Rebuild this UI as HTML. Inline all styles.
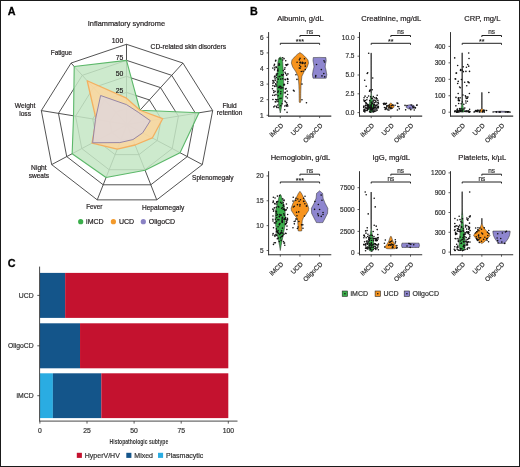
<!DOCTYPE html>
<html><head><meta charset="utf-8"><style>
html,body{margin:0;padding:0;background:#fff;}
body{width:520px;height:467px;overflow:hidden;}
svg{display:block;font-family:"Liberation Sans", sans-serif;will-change:transform;}
</style></head><body>
<svg width="520" height="467" viewBox="0 0 520 467">
<rect x="0" y="0" width="520" height="467" fill="#fff"/>
<polygon points="126.50,108.46 138.18,112.21 144.14,121.71 142.07,132.52 132.95,139.57 121.05,139.57 111.93,132.52 109.86,121.71 115.82,112.21" fill="none" stroke="#404040" stroke-width="0.9"/>
<polygon points="126.50,92.42 149.37,99.93 161.27,118.93 157.14,140.54 138.90,154.65 115.10,154.65 96.86,140.54 92.73,118.93 104.63,99.93" fill="none" stroke="#404040" stroke-width="0.9"/>
<polygon points="126.50,76.38 160.55,87.64 178.41,116.14 172.21,148.56 144.85,169.72 109.15,169.72 81.79,148.56 75.59,116.14 93.45,87.64" fill="none" stroke="#404040" stroke-width="0.9"/>
<polygon points="126.50,60.34 171.74,75.35 195.54,113.36 187.28,156.58 150.80,184.79 103.20,184.79 66.72,156.58 58.46,113.36 82.26,75.35" fill="none" stroke="#404040" stroke-width="0.9"/>
<polygon points="126.50,44.30 182.92,63.06 212.68,110.57 202.34,164.60 156.76,199.86 97.24,199.86 51.66,164.60 41.32,110.57 71.08,63.06" fill="none" stroke="#404040" stroke-width="0.9"/>
<line x1="126.5" y1="124.5" x2="126.50" y2="44.30" stroke="#404040" stroke-width="0.9"/>
<line x1="127.0" y1="124.5" x2="182.92" y2="63.06" stroke="#404040" stroke-width="0.9"/>
<line x1="127.0" y1="124.5" x2="212.68" y2="110.57" stroke="#404040" stroke-width="0.9"/>
<line x1="127.0" y1="124.5" x2="202.34" y2="164.60" stroke="#404040" stroke-width="0.9"/>
<line x1="127.0" y1="124.5" x2="156.76" y2="199.86" stroke="#404040" stroke-width="0.9"/>
<line x1="127.0" y1="124.5" x2="97.24" y2="199.86" stroke="#404040" stroke-width="0.9"/>
<line x1="127.0" y1="124.5" x2="51.66" y2="164.60" stroke="#404040" stroke-width="0.9"/>
<line x1="127.0" y1="124.5" x2="41.32" y2="110.57" stroke="#404040" stroke-width="0.9"/>
<line x1="127.0" y1="124.5" x2="71.08" y2="63.06" stroke="#404040" stroke-width="0.9"/>
<polygon points="126.50,60.34 139.97,110.25 198.97,112.80 180.04,152.73 145.09,170.32 106.05,177.56 72.15,153.69 73.54,115.81 74.21,66.50" fill="#c4e6c4" fill-opacity="0.85" stroke="#5cb86a" stroke-width="1.1" stroke-linejoin="round"/>
<polygon points="126.50,98.19 139.97,110.25 162.64,118.71 152.32,137.97 135.09,145.00 117.24,149.22 92.04,143.11 96.16,119.49 87.18,80.76" fill="#fbd69e" fill-opacity="0.85" stroke="#f4b060" stroke-width="1.3" stroke-linejoin="round"/>
<polygon points="126.50,104.61 138.18,112.21 150.30,120.71 142.67,132.84 132.95,139.57 119.86,142.59 92.64,142.79 95.47,119.38 100.60,95.50" fill="#e0d6d8" fill-opacity="0.85" stroke="#9686a6" stroke-width="1.0" stroke-linejoin="round"/>
<text x="126.40" y="26.40" font-size="7.4" text-anchor="middle" font-weight="normal" fill="#231f20" stroke="#231f20" stroke-width="0.2" >Inflammatory syndrome</text>
<text x="123.20" y="43.00" font-size="6.8" text-anchor="end" font-weight="normal" fill="#231f20" stroke="#231f20" stroke-width="0.2" >100</text>
<text x="123.20" y="60.10" font-size="6.8" text-anchor="end" font-weight="normal" fill="#231f20" stroke="#231f20" stroke-width="0.2" >75</text>
<text x="123.20" y="76.30" font-size="6.8" text-anchor="end" font-weight="normal" fill="#231f20" stroke="#231f20" stroke-width="0.2" >50</text>
<text x="123.20" y="92.80" font-size="6.8" text-anchor="end" font-weight="normal" fill="#231f20" stroke="#231f20" stroke-width="0.2" >25</text>
<text x="150.60" y="48.50" font-size="6.7" text-anchor="start" font-weight="normal" fill="#231f20" stroke="#231f20" stroke-width="0.2" >CD-related skin disorders</text>
<text x="50.80" y="55.20" font-size="6.35" text-anchor="start" font-weight="normal" fill="#231f20" stroke="#231f20" stroke-width="0.2" >Fatigue</text>
<text x="25.10" y="108.30" font-size="6.7" text-anchor="middle" font-weight="normal" fill="#231f20" stroke="#231f20" stroke-width="0.2" >Weight</text>
<text x="25.10" y="116.00" font-size="6.7" text-anchor="middle" font-weight="normal" fill="#231f20" stroke="#231f20" stroke-width="0.2" >loss</text>
<text x="229.60" y="107.60" font-size="6.55" text-anchor="middle" font-weight="normal" fill="#231f20" stroke="#231f20" stroke-width="0.2" >Fluid</text>
<text x="229.60" y="115.30" font-size="6.55" text-anchor="middle" font-weight="normal" fill="#231f20" stroke="#231f20" stroke-width="0.2" >retention</text>
<text x="38.90" y="169.90" font-size="6.7" text-anchor="middle" font-weight="normal" fill="#231f20" stroke="#231f20" stroke-width="0.2" >Night</text>
<text x="38.90" y="178.00" font-size="6.55" text-anchor="middle" font-weight="normal" fill="#231f20" stroke="#231f20" stroke-width="0.2" >sweats</text>
<text x="192.10" y="180.00" font-size="6.55" text-anchor="start" font-weight="normal" fill="#231f20" stroke="#231f20" stroke-width="0.2" >Splenomegaly</text>
<text x="86.20" y="208.80" font-size="6.3" text-anchor="start" font-weight="normal" fill="#231f20" stroke="#231f20" stroke-width="0.2" >Fever</text>
<text x="142.00" y="210.00" font-size="6.55" text-anchor="start" font-weight="normal" fill="#231f20" stroke="#231f20" stroke-width="0.2" >Hepatomegaly</text>
<circle cx="80.7" cy="221.7" r="2.6" fill="#3aae4a"/>
<text x="86.10" y="224.20" font-size="7.0" text-anchor="start" font-weight="normal" fill="#231f20" stroke="#231f20" stroke-width="0.2" >iMCD</text>
<circle cx="113.4" cy="221.7" r="2.6" fill="#f39a2b"/>
<text x="119.00" y="224.20" font-size="7.0" text-anchor="start" font-weight="normal" fill="#231f20" stroke="#231f20" stroke-width="0.2" >UCD</text>
<circle cx="143.3" cy="221.7" r="2.6" fill="#8a82c4"/>
<text x="148.70" y="224.20" font-size="7.0" text-anchor="start" font-weight="normal" fill="#231f20" stroke="#231f20" stroke-width="0.2" >OligoCD</text>
<rect x="39.90" y="272.9" width="25.25" height="45.00" fill="#14558a"/>
<rect x="65.15" y="272.9" width="163.15" height="45.00" fill="#c4122f"/>
<line x1="37.3" y1="295.40" x2="39.9" y2="295.40" stroke="#333" stroke-width="0.8"/>
<text x="33.60" y="297.80" font-size="6.8" text-anchor="end" font-weight="normal" fill="#333" stroke="#333" stroke-width="0.2" >UCD</text>
<rect x="39.90" y="323.3" width="40.13" height="45.00" fill="#14558a"/>
<rect x="80.03" y="323.3" width="148.27" height="45.00" fill="#c4122f"/>
<line x1="37.3" y1="345.80" x2="39.9" y2="345.80" stroke="#333" stroke-width="0.8"/>
<text x="33.60" y="348.20" font-size="6.8" text-anchor="end" font-weight="normal" fill="#333" stroke="#333" stroke-width="0.2" >OligoCD</text>
<rect x="39.90" y="373.3" width="13.00" height="44.80" fill="#2aace2"/>
<rect x="52.90" y="373.3" width="48.42" height="44.80" fill="#14558a"/>
<rect x="101.32" y="373.3" width="126.98" height="44.80" fill="#c4122f"/>
<line x1="37.3" y1="395.70" x2="39.9" y2="395.70" stroke="#333" stroke-width="0.8"/>
<text x="33.60" y="398.10" font-size="6.8" text-anchor="end" font-weight="normal" fill="#333" stroke="#333" stroke-width="0.2" >iMCD</text>
<line x1="39.6" y1="266.6" x2="39.6" y2="421.5" stroke="#333" stroke-width="0.9"/>
<line x1="39.6" y1="421.1" x2="237.5" y2="421.1" stroke="#333" stroke-width="0.9"/>
<line x1="39.90" y1="421.1" x2="39.90" y2="423.6" stroke="#333" stroke-width="0.8"/>
<text x="39.90" y="432.80" font-size="6.8" text-anchor="middle" font-weight="normal" fill="#333" stroke="#333" stroke-width="0.2" >0</text>
<line x1="87.00" y1="421.1" x2="87.00" y2="423.6" stroke="#333" stroke-width="0.8"/>
<text x="87.00" y="432.80" font-size="6.8" text-anchor="middle" font-weight="normal" fill="#333" stroke="#333" stroke-width="0.2" >25</text>
<line x1="134.10" y1="421.1" x2="134.10" y2="423.6" stroke="#333" stroke-width="0.8"/>
<text x="134.10" y="432.80" font-size="6.8" text-anchor="middle" font-weight="normal" fill="#333" stroke="#333" stroke-width="0.2" >50</text>
<line x1="181.20" y1="421.1" x2="181.20" y2="423.6" stroke="#333" stroke-width="0.8"/>
<text x="181.20" y="432.80" font-size="6.8" text-anchor="middle" font-weight="normal" fill="#333" stroke="#333" stroke-width="0.2" >75</text>
<line x1="228.30" y1="421.1" x2="228.30" y2="423.6" stroke="#333" stroke-width="0.8"/>
<text x="228.30" y="432.80" font-size="6.8" text-anchor="middle" font-weight="normal" fill="#333" stroke="#333" stroke-width="0.2" >100</text>
<text transform="translate(138.9 443.7) scale(0.72 1)" font-size="7" font-weight="bold" text-anchor="middle" fill="#333">Histopathologic subtype</text>
<rect x="76.8" y="452.8" width="5.1" height="5.1" fill="#c4122f"/>
<text x="84.80" y="458.00" font-size="7.0" text-anchor="start" font-weight="normal" fill="#333" stroke="#333" stroke-width="0.2" >HyperV/HV</text>
<rect x="126.3" y="452.8" width="5.1" height="5.1" fill="#14558a"/>
<text x="134.30" y="458.00" font-size="7.0" text-anchor="start" font-weight="normal" fill="#333" stroke="#333" stroke-width="0.2" >Mixed</text>
<rect x="158.0" y="452.8" width="5.1" height="5.1" fill="#2aace2"/>
<text x="166.00" y="458.00" font-size="7.0" text-anchor="start" font-weight="normal" fill="#333" stroke="#333" stroke-width="0.2" >Plasmacytic</text>
<text x="300.40" y="21.40" font-size="7.6" text-anchor="middle" font-weight="normal" fill="#231f20" stroke="#231f20" stroke-width="0.2" >Albumin, g/dL</text>
<line x1="268.6" y1="32.1" x2="268.6" y2="116.6" stroke="#333" stroke-width="1.0"/>
<line x1="268.20000000000005" y1="116.1" x2="331.3" y2="116.1" stroke="#333" stroke-width="1.1"/>
<line x1="266.6" y1="115.30" x2="268.6" y2="115.30" stroke="#333" stroke-width="0.8"/>
<text x="263.60" y="117.50" font-size="6.5" text-anchor="end" font-weight="normal" fill="#333" stroke="#333" stroke-width="0.2" >1</text>
<line x1="266.6" y1="99.70" x2="268.6" y2="99.70" stroke="#333" stroke-width="0.8"/>
<text x="263.60" y="101.90" font-size="6.5" text-anchor="end" font-weight="normal" fill="#333" stroke="#333" stroke-width="0.2" >2</text>
<line x1="266.6" y1="84.10" x2="268.6" y2="84.10" stroke="#333" stroke-width="0.8"/>
<text x="263.60" y="86.30" font-size="6.5" text-anchor="end" font-weight="normal" fill="#333" stroke="#333" stroke-width="0.2" >3</text>
<line x1="266.6" y1="68.50" x2="268.6" y2="68.50" stroke="#333" stroke-width="0.8"/>
<text x="263.60" y="70.70" font-size="6.5" text-anchor="end" font-weight="normal" fill="#333" stroke="#333" stroke-width="0.2" >4</text>
<line x1="266.6" y1="52.90" x2="268.6" y2="52.90" stroke="#333" stroke-width="0.8"/>
<text x="263.60" y="55.10" font-size="6.5" text-anchor="end" font-weight="normal" fill="#333" stroke="#333" stroke-width="0.2" >5</text>
<line x1="266.6" y1="37.30" x2="268.6" y2="37.30" stroke="#333" stroke-width="0.8"/>
<text x="263.60" y="39.50" font-size="6.5" text-anchor="end" font-weight="normal" fill="#333" stroke="#333" stroke-width="0.2" >6</text>
<line x1="280.30" y1="116.1" x2="280.30" y2="118.1" stroke="#333" stroke-width="0.8"/>
<text transform="translate(283.70 126.00) rotate(-45)" font-size="6.5" text-anchor="end" fill="#333" stroke="#333" stroke-width="0.2">iMCD</text>
<line x1="299.95" y1="116.1" x2="299.95" y2="118.1" stroke="#333" stroke-width="0.8"/>
<text transform="translate(303.35 126.00) rotate(-45)" font-size="6.5" text-anchor="end" fill="#333" stroke="#333" stroke-width="0.2">UCD</text>
<line x1="319.60" y1="116.1" x2="319.60" y2="118.1" stroke="#333" stroke-width="0.8"/>
<text transform="translate(323.00 126.00) rotate(-45)" font-size="6.5" text-anchor="end" fill="#333" stroke="#333" stroke-width="0.2">OligoCD</text>
<path d="M280.30,112.96 L280.48,112.05 L280.67,111.14 L280.85,110.23 L281.03,109.32 L281.22,108.41 L281.40,107.50 L281.63,106.20 L281.87,104.90 L282.10,103.60 L282.33,102.30 L282.57,101.00 L282.80,99.70 L282.92,98.40 L283.03,97.10 L283.15,95.80 L283.27,94.50 L283.38,93.20 L283.50,91.90 L283.53,90.60 L283.57,89.30 L283.60,88.00 L283.63,86.70 L283.67,85.40 L283.70,84.10 L283.68,82.80 L283.67,81.50 L283.65,80.20 L283.63,78.90 L283.62,77.60 L283.60,76.30 L283.52,75.00 L283.43,73.70 L283.35,72.40 L283.27,71.10 L283.18,69.80 L283.10,68.50 L283.03,67.46 L282.97,66.42 L282.90,65.38 L282.83,64.34 L282.77,63.30 L282.70,62.26 L282.60,61.69 L282.50,61.12 L282.40,60.54 L282.30,59.97 L282.20,59.40 L282.10,58.83 L281.97,58.62 L281.83,58.41 L281.70,58.20 L281.57,58.00 L281.43,57.79 L281.30,57.58 L281.13,57.50 L280.97,57.42 L280.80,57.35 L280.63,57.27 L280.47,57.19 L280.30,57.11 L280.30,57.11 L280.13,57.19 L279.97,57.27 L279.80,57.35 L279.63,57.42 L279.47,57.50 L279.30,57.58 L279.17,57.79 L279.03,58.00 L278.90,58.20 L278.77,58.41 L278.63,58.62 L278.50,58.83 L278.40,59.40 L278.30,59.97 L278.20,60.54 L278.10,61.12 L278.00,61.69 L277.90,62.26 L277.83,63.30 L277.77,64.34 L277.70,65.38 L277.63,66.42 L277.57,67.46 L277.50,68.50 L277.42,69.80 L277.33,71.10 L277.25,72.40 L277.17,73.70 L277.08,75.00 L277.00,76.30 L276.98,77.60 L276.97,78.90 L276.95,80.20 L276.93,81.50 L276.92,82.80 L276.90,84.10 L276.93,85.40 L276.97,86.70 L277.00,88.00 L277.03,89.30 L277.07,90.60 L277.10,91.90 L277.22,93.20 L277.33,94.50 L277.45,95.80 L277.57,97.10 L277.68,98.40 L277.80,99.70 L278.03,101.00 L278.27,102.30 L278.50,103.60 L278.73,104.90 L278.97,106.20 L279.20,107.50 L279.38,108.41 L279.57,109.32 L279.75,110.23 L279.93,111.14 L280.12,112.05 L280.30,112.96 Z" fill="#3aae4a" stroke="#2a2a2a" stroke-width="0.55"/>
<path d="M299.95,102.82 L300.07,102.69 L300.18,102.56 L300.30,102.43 L300.42,102.30 L300.53,102.17 L300.65,102.04 L300.67,100.35 L300.68,98.66 L300.70,96.97 L300.72,95.28 L300.73,93.59 L300.75,91.90 L300.80,90.60 L300.85,89.30 L300.90,88.00 L300.95,86.70 L301.00,85.40 L301.05,84.10 L301.18,82.80 L301.32,81.50 L301.45,80.20 L301.58,78.90 L301.72,77.60 L301.85,76.30 L302.23,75.52 L302.62,74.74 L303.00,73.96 L303.38,73.18 L303.77,72.40 L304.15,71.62 L304.67,70.84 L305.18,70.06 L305.70,69.28 L306.22,68.50 L306.73,67.72 L307.25,66.94 L307.47,66.29 L307.68,65.64 L307.90,64.99 L308.12,64.34 L308.33,63.69 L308.55,63.04 L308.45,62.52 L308.35,62.00 L308.25,61.48 L308.15,60.96 L308.05,60.44 L307.95,59.92 L307.48,59.40 L307.02,58.88 L306.55,58.36 L306.08,57.84 L305.62,57.32 L305.15,56.80 L304.68,56.36 L304.22,55.92 L303.75,55.47 L303.28,55.03 L302.82,54.59 L302.35,54.15 L301.95,53.89 L301.55,53.63 L301.15,53.37 L300.75,53.11 L300.35,52.85 L299.95,52.59 L299.95,52.59 L299.55,52.85 L299.15,53.11 L298.75,53.37 L298.35,53.63 L297.95,53.89 L297.55,54.15 L297.08,54.59 L296.62,55.03 L296.15,55.47 L295.68,55.92 L295.22,56.36 L294.75,56.80 L294.28,57.32 L293.82,57.84 L293.35,58.36 L292.88,58.88 L292.42,59.40 L291.95,59.92 L291.85,60.44 L291.75,60.96 L291.65,61.48 L291.55,62.00 L291.45,62.52 L291.35,63.04 L291.57,63.69 L291.78,64.34 L292.00,64.99 L292.22,65.64 L292.43,66.29 L292.65,66.94 L293.17,67.72 L293.68,68.50 L294.20,69.28 L294.72,70.06 L295.23,70.84 L295.75,71.62 L296.13,72.40 L296.52,73.18 L296.90,73.96 L297.28,74.74 L297.67,75.52 L298.05,76.30 L298.18,77.60 L298.32,78.90 L298.45,80.20 L298.58,81.50 L298.72,82.80 L298.85,84.10 L298.90,85.40 L298.95,86.70 L299.00,88.00 L299.05,89.30 L299.10,90.60 L299.15,91.90 L299.17,93.59 L299.18,95.28 L299.20,96.97 L299.22,98.66 L299.23,100.35 L299.25,102.04 L299.37,102.17 L299.48,102.30 L299.60,102.43 L299.72,102.56 L299.83,102.69 L299.95,102.82 Z" fill="#f7941d" stroke="#2a2a2a" stroke-width="0.55"/>
<path d="M319.60,78.33 L320.70,78.30 L321.80,78.28 L322.90,78.25 L324.00,78.22 L325.10,78.20 L326.20,78.17 L326.30,77.60 L326.40,77.03 L326.50,76.46 L326.60,75.88 L326.70,75.31 L326.80,74.74 L326.67,73.96 L326.53,73.18 L326.40,72.40 L326.27,71.62 L326.13,70.84 L326.00,70.06 L325.87,69.54 L325.73,69.02 L325.60,68.50 L325.47,67.98 L325.33,67.46 L325.20,66.94 L325.27,66.42 L325.33,65.90 L325.40,65.38 L325.47,64.86 L325.53,64.34 L325.60,63.82 L325.70,63.30 L325.80,62.78 L325.90,62.26 L326.00,61.74 L326.10,61.22 L326.20,60.70 L326.15,60.18 L326.10,59.66 L326.05,59.14 L326.00,58.62 L325.95,58.10 L325.90,57.58 L324.85,57.55 L323.80,57.53 L322.75,57.50 L321.70,57.48 L320.65,57.45 L319.60,57.42 L319.60,57.42 L318.55,57.45 L317.50,57.48 L316.45,57.50 L315.40,57.53 L314.35,57.55 L313.30,57.58 L313.25,58.10 L313.20,58.62 L313.15,59.14 L313.10,59.66 L313.05,60.18 L313.00,60.70 L313.10,61.22 L313.20,61.74 L313.30,62.26 L313.40,62.78 L313.50,63.30 L313.60,63.82 L313.67,64.34 L313.73,64.86 L313.80,65.38 L313.87,65.90 L313.93,66.42 L314.00,66.94 L313.87,67.46 L313.73,67.98 L313.60,68.50 L313.47,69.02 L313.33,69.54 L313.20,70.06 L313.07,70.84 L312.93,71.62 L312.80,72.40 L312.67,73.18 L312.53,73.96 L312.40,74.74 L312.50,75.31 L312.60,75.88 L312.70,76.46 L312.80,77.03 L312.90,77.60 L313.00,78.17 L314.10,78.20 L315.20,78.22 L316.30,78.25 L317.40,78.28 L318.50,78.30 L319.60,78.33 Z" fill="#8e86cf" stroke="#2a2a2a" stroke-width="0.55"/>
<circle cx="273.55" cy="90.68" r="0.8" fill="#111"/>
<circle cx="275.76" cy="99.51" r="0.8" fill="#111"/>
<circle cx="275.03" cy="76.01" r="0.8" fill="#111"/>
<circle cx="277.80" cy="105.05" r="0.8" fill="#111"/>
<circle cx="273.32" cy="81.10" r="0.8" fill="#111"/>
<circle cx="272.50" cy="88.77" r="0.8" fill="#111"/>
<circle cx="274.86" cy="106.08" r="0.8" fill="#111"/>
<circle cx="274.08" cy="82.35" r="0.8" fill="#111"/>
<circle cx="278.17" cy="107.60" r="0.8" fill="#111"/>
<circle cx="272.90" cy="85.66" r="0.8" fill="#111"/>
<circle cx="286.14" cy="105.23" r="0.8" fill="#111"/>
<circle cx="282.08" cy="103.74" r="0.8" fill="#111"/>
<circle cx="274.82" cy="86.08" r="0.8" fill="#111"/>
<circle cx="276.44" cy="67.50" r="0.8" fill="#111"/>
<circle cx="277.92" cy="101.38" r="0.8" fill="#111"/>
<circle cx="278.18" cy="95.75" r="0.8" fill="#111"/>
<circle cx="274.42" cy="77.07" r="0.8" fill="#111"/>
<circle cx="285.74" cy="60.70" r="0.8" fill="#111"/>
<circle cx="287.99" cy="79.29" r="0.8" fill="#111"/>
<circle cx="279.77" cy="87.35" r="0.8" fill="#111"/>
<circle cx="280.05" cy="58.88" r="0.8" fill="#111"/>
<circle cx="273.84" cy="106.90" r="0.8" fill="#111"/>
<circle cx="274.09" cy="65.78" r="0.8" fill="#111"/>
<circle cx="277.85" cy="92.30" r="0.8" fill="#111"/>
<circle cx="276.63" cy="99.91" r="0.8" fill="#111"/>
<circle cx="285.43" cy="101.81" r="0.8" fill="#111"/>
<circle cx="275.02" cy="91.39" r="0.8" fill="#111"/>
<circle cx="272.86" cy="68.09" r="0.8" fill="#111"/>
<circle cx="287.34" cy="97.96" r="0.8" fill="#111"/>
<circle cx="280.74" cy="79.09" r="0.8" fill="#111"/>
<circle cx="274.79" cy="76.57" r="0.8" fill="#111"/>
<circle cx="280.97" cy="88.46" r="0.8" fill="#111"/>
<circle cx="272.92" cy="80.58" r="0.8" fill="#111"/>
<circle cx="280.74" cy="105.74" r="0.8" fill="#111"/>
<circle cx="287.76" cy="105.97" r="0.8" fill="#111"/>
<circle cx="285.97" cy="96.65" r="0.8" fill="#111"/>
<circle cx="283.36" cy="74.61" r="0.8" fill="#111"/>
<circle cx="276.57" cy="85.93" r="0.8" fill="#111"/>
<circle cx="278.22" cy="91.13" r="0.8" fill="#111"/>
<circle cx="275.11" cy="78.91" r="0.8" fill="#111"/>
<circle cx="284.54" cy="84.76" r="0.8" fill="#111"/>
<circle cx="280.81" cy="91.78" r="0.8" fill="#111"/>
<circle cx="284.65" cy="69.18" r="0.8" fill="#111"/>
<circle cx="277.64" cy="73.72" r="0.8" fill="#111"/>
<circle cx="275.98" cy="94.66" r="0.8" fill="#111"/>
<circle cx="285.16" cy="79.40" r="0.8" fill="#111"/>
<circle cx="287.86" cy="81.57" r="0.8" fill="#111"/>
<circle cx="285.80" cy="64.87" r="0.8" fill="#111"/>
<circle cx="285.07" cy="72.27" r="0.8" fill="#111"/>
<circle cx="285.27" cy="92.38" r="0.8" fill="#111"/>
<circle cx="284.04" cy="58.63" r="0.8" fill="#111"/>
<circle cx="276.04" cy="101.79" r="0.8" fill="#111"/>
<circle cx="280.58" cy="86.37" r="0.8" fill="#111"/>
<circle cx="278.05" cy="70.95" r="0.8" fill="#111"/>
<circle cx="272.95" cy="99.45" r="0.8" fill="#111"/>
<circle cx="272.94" cy="83.16" r="0.8" fill="#111"/>
<circle cx="276.86" cy="107.43" r="0.8" fill="#111"/>
<circle cx="276.54" cy="75.19" r="0.8" fill="#111"/>
<circle cx="283.30" cy="70.60" r="0.8" fill="#111"/>
<circle cx="287.42" cy="79.46" r="0.8" fill="#111"/>
<circle cx="279.48" cy="64.85" r="0.8" fill="#111"/>
<circle cx="287.12" cy="91.14" r="0.8" fill="#111"/>
<circle cx="287.91" cy="73.90" r="0.8" fill="#111"/>
<circle cx="287.40" cy="78.53" r="0.8" fill="#111"/>
<circle cx="278.19" cy="79.16" r="0.8" fill="#111"/>
<circle cx="275.94" cy="84.63" r="0.8" fill="#111"/>
<circle cx="276.04" cy="66.79" r="0.8" fill="#111"/>
<circle cx="275.57" cy="60.89" r="0.8" fill="#111"/>
<circle cx="275.69" cy="83.82" r="0.8" fill="#111"/>
<circle cx="282.24" cy="75.38" r="0.8" fill="#111"/>
<circle cx="286.54" cy="105.89" r="0.8" fill="#111"/>
<circle cx="285.61" cy="73.60" r="0.8" fill="#111"/>
<circle cx="279.98" cy="76.20" r="0.8" fill="#111"/>
<circle cx="282.69" cy="57.81" r="0.8" fill="#111"/>
<circle cx="284.97" cy="67.77" r="0.8" fill="#111"/>
<circle cx="273.82" cy="92.56" r="0.8" fill="#111"/>
<circle cx="282.81" cy="87.85" r="0.8" fill="#111"/>
<circle cx="286.69" cy="75.17" r="0.8" fill="#111"/>
<circle cx="284.70" cy="109.73" r="0.8" fill="#111"/>
<circle cx="284.20" cy="84.37" r="0.8" fill="#111"/>
<circle cx="279.96" cy="98.62" r="0.8" fill="#111"/>
<circle cx="275.28" cy="101.86" r="0.8" fill="#111"/>
<circle cx="284.81" cy="106.01" r="0.8" fill="#111"/>
<circle cx="277.69" cy="70.42" r="0.8" fill="#111"/>
<circle cx="284.99" cy="100.98" r="0.8" fill="#111"/>
<circle cx="287.66" cy="94.48" r="0.8" fill="#111"/>
<circle cx="278.68" cy="87.61" r="0.8" fill="#111"/>
<circle cx="278.76" cy="65.08" r="0.8" fill="#111"/>
<circle cx="287.27" cy="104.47" r="0.8" fill="#111"/>
<circle cx="283.81" cy="84.95" r="0.8" fill="#111"/>
<circle cx="275.15" cy="80.50" r="0.8" fill="#111"/>
<circle cx="274.48" cy="64.42" r="0.8" fill="#111"/>
<circle cx="274.86" cy="67.92" r="0.8" fill="#111"/>
<circle cx="286.62" cy="65.48" r="0.8" fill="#111"/>
<circle cx="285.08" cy="92.88" r="0.8" fill="#111"/>
<circle cx="274.78" cy="86.50" r="0.8" fill="#111"/>
<circle cx="285.39" cy="89.08" r="0.8" fill="#111"/>
<circle cx="287.79" cy="64.38" r="0.8" fill="#111"/>
<circle cx="282.75" cy="60.06" r="0.8" fill="#111"/>
<circle cx="277.97" cy="99.51" r="0.8" fill="#111"/>
<circle cx="281.06" cy="98.19" r="0.8" fill="#111"/>
<circle cx="274.54" cy="95.30" r="0.8" fill="#111"/>
<circle cx="272.72" cy="95.22" r="0.8" fill="#111"/>
<circle cx="287.65" cy="83.34" r="0.8" fill="#111"/>
<circle cx="282.63" cy="78.76" r="0.8" fill="#111"/>
<circle cx="280.71" cy="93.69" r="0.8" fill="#111"/>
<circle cx="287.06" cy="112.37" r="0.8" fill="#111"/>
<circle cx="279.27" cy="86.33" r="0.8" fill="#111"/>
<circle cx="286.10" cy="88.60" r="0.8" fill="#111"/>
<circle cx="285.39" cy="79.76" r="0.8" fill="#111"/>
<circle cx="275.79" cy="60.35" r="0.8" fill="#111"/>
<circle cx="276.43" cy="74.13" r="0.8" fill="#111"/>
<circle cx="277.07" cy="82.00" r="0.8" fill="#111"/>
<circle cx="276.25" cy="77.50" r="0.8" fill="#111"/>
<circle cx="281.65" cy="74.81" r="0.8" fill="#111"/>
<circle cx="276.55" cy="106.37" r="0.8" fill="#111"/>
<circle cx="279.04" cy="63.54" r="0.8" fill="#111"/>
<circle cx="274.54" cy="69.86" r="0.8" fill="#111"/>
<circle cx="286.70" cy="64.91" r="0.8" fill="#111"/>
<circle cx="278.02" cy="69.01" r="0.8" fill="#111"/>
<circle cx="279.65" cy="87.55" r="0.8" fill="#111"/>
<circle cx="281.60" cy="87.24" r="0.8" fill="#111"/>
<circle cx="286.61" cy="102.83" r="0.8" fill="#111"/>
<circle cx="279.06" cy="76.77" r="0.8" fill="#111"/>
<circle cx="286.82" cy="105.78" r="0.8" fill="#111"/>
<circle cx="303.22" cy="63.02" r="0.8" fill="#111"/>
<circle cx="300.04" cy="62.63" r="0.8" fill="#111"/>
<circle cx="300.69" cy="62.74" r="0.8" fill="#111"/>
<circle cx="303.07" cy="71.25" r="0.8" fill="#111"/>
<circle cx="304.90" cy="63.81" r="0.8" fill="#111"/>
<circle cx="299.27" cy="68.02" r="0.8" fill="#111"/>
<circle cx="301.30" cy="71.54" r="0.8" fill="#111"/>
<circle cx="300.02" cy="58.41" r="0.8" fill="#111"/>
<circle cx="300.10" cy="68.23" r="0.8" fill="#111"/>
<circle cx="302.26" cy="63.38" r="0.8" fill="#111"/>
<circle cx="299.38" cy="59.87" r="0.8" fill="#111"/>
<circle cx="300.35" cy="62.32" r="0.8" fill="#111"/>
<circle cx="299.69" cy="65.27" r="0.8" fill="#111"/>
<circle cx="305.25" cy="62.81" r="0.8" fill="#111"/>
<circle cx="302.34" cy="62.33" r="0.8" fill="#111"/>
<circle cx="304.47" cy="58.71" r="0.8" fill="#111"/>
<circle cx="305.26" cy="69.53" r="0.8" fill="#111"/>
<circle cx="297.07" cy="62.27" r="0.8" fill="#111"/>
<circle cx="300.66" cy="66.73" r="0.8" fill="#111"/>
<circle cx="305.27" cy="66.17" r="0.8" fill="#111"/>
<circle cx="296.95" cy="79.42" r="0.8" fill="#111"/>
<circle cx="301.95" cy="84.10" r="0.8" fill="#111"/>
<circle cx="293.45" cy="90.34" r="0.8" fill="#111"/>
<circle cx="294.15" cy="91.12" r="0.8" fill="#111"/>
<circle cx="301.95" cy="99.70" r="0.8" fill="#111"/>
<circle cx="306.45" cy="102.82" r="0.8" fill="#111"/>
<circle cx="295.95" cy="74.74" r="0.8" fill="#111"/>
<circle cx="323.97" cy="60.81" r="0.8" fill="#111"/>
<circle cx="315.80" cy="75.60" r="0.8" fill="#111"/>
<circle cx="321.98" cy="75.90" r="0.8" fill="#111"/>
<circle cx="321.36" cy="69.59" r="0.8" fill="#111"/>
<circle cx="315.67" cy="76.85" r="0.8" fill="#111"/>
<circle cx="323.81" cy="73.59" r="0.8" fill="#111"/>
<circle cx="324.74" cy="76.84" r="0.8" fill="#111"/>
<circle cx="316.52" cy="64.46" r="0.8" fill="#111"/>
<circle cx="324.58" cy="61.99" r="0.8" fill="#111"/>
<path d="M280.30,44.80 L280.30,43.30 L319.60,43.30 L319.60,44.80" fill="none" stroke="#222" stroke-width="1.0"/>
<text x="299.95" y="44.30" font-size="7.0" text-anchor="middle" font-weight="bold" fill="#222" >***</text>
<path d="M299.95,37.00 L299.95,35.50 L319.60,35.50 L319.60,37.00" fill="none" stroke="#222" stroke-width="1.0"/>
<text x="309.78" y="34.30" font-size="6.4" text-anchor="middle" font-weight="normal" fill="#333" stroke="#333" stroke-width="0.2" >ns</text>
<text x="391.30" y="21.40" font-size="7.6" text-anchor="middle" font-weight="normal" fill="#231f20" stroke="#231f20" stroke-width="0.2" >Creatinine, mg/dL</text>
<line x1="359.5" y1="32.1" x2="359.5" y2="116.6" stroke="#333" stroke-width="1.0"/>
<line x1="359.1" y1="116.1" x2="422.2" y2="116.1" stroke="#333" stroke-width="1.1"/>
<line x1="357.5" y1="112.60" x2="359.5" y2="112.60" stroke="#333" stroke-width="0.8"/>
<text x="354.50" y="114.80" font-size="6.5" text-anchor="end" font-weight="normal" fill="#333" stroke="#333" stroke-width="0.2" >0.0</text>
<line x1="357.5" y1="93.80" x2="359.5" y2="93.80" stroke="#333" stroke-width="0.8"/>
<text x="354.50" y="96.00" font-size="6.5" text-anchor="end" font-weight="normal" fill="#333" stroke="#333" stroke-width="0.2" >2.5</text>
<line x1="357.5" y1="75.00" x2="359.5" y2="75.00" stroke="#333" stroke-width="0.8"/>
<text x="354.50" y="77.20" font-size="6.5" text-anchor="end" font-weight="normal" fill="#333" stroke="#333" stroke-width="0.2" >5.0</text>
<line x1="357.5" y1="56.20" x2="359.5" y2="56.20" stroke="#333" stroke-width="0.8"/>
<text x="354.50" y="58.40" font-size="6.5" text-anchor="end" font-weight="normal" fill="#333" stroke="#333" stroke-width="0.2" >7.5</text>
<line x1="357.5" y1="37.40" x2="359.5" y2="37.40" stroke="#333" stroke-width="0.8"/>
<text x="354.50" y="39.60" font-size="6.5" text-anchor="end" font-weight="normal" fill="#333" stroke="#333" stroke-width="0.2" >10.0</text>
<line x1="371.20" y1="116.1" x2="371.20" y2="118.1" stroke="#333" stroke-width="0.8"/>
<text transform="translate(374.60 126.00) rotate(-45)" font-size="6.5" text-anchor="end" fill="#333" stroke="#333" stroke-width="0.2">iMCD</text>
<line x1="390.85" y1="116.1" x2="390.85" y2="118.1" stroke="#333" stroke-width="0.8"/>
<text transform="translate(394.25 126.00) rotate(-45)" font-size="6.5" text-anchor="end" fill="#333" stroke="#333" stroke-width="0.2">UCD</text>
<line x1="410.50" y1="116.1" x2="410.50" y2="118.1" stroke="#333" stroke-width="0.8"/>
<text transform="translate(413.90 126.00) rotate(-45)" font-size="6.5" text-anchor="end" fill="#333" stroke="#333" stroke-width="0.2">OligoCD</text>
<path d="M371.20,112.60 L371.45,112.47 L371.70,112.35 L371.95,112.22 L372.20,112.10 L372.45,111.97 L372.70,111.85 L372.85,111.35 L373.00,110.85 L373.15,110.34 L373.30,109.84 L373.45,109.34 L373.60,108.84 L373.60,108.34 L373.60,107.84 L373.60,107.34 L373.60,106.83 L373.60,106.33 L373.60,105.83 L373.50,105.33 L373.40,104.83 L373.30,104.33 L373.20,103.83 L373.10,103.33 L373.00,102.82 L372.87,102.20 L372.73,101.57 L372.60,100.94 L372.47,100.32 L372.33,99.69 L372.20,99.06 L372.10,98.44 L372.00,97.81 L371.90,97.18 L371.80,96.56 L371.70,95.93 L371.60,95.30 L371.55,94.68 L371.50,94.05 L371.45,93.42 L371.40,92.80 L371.35,92.17 L371.30,91.54 L371.28,91.29 L371.27,91.04 L371.25,90.79 L371.23,90.54 L371.22,90.29 L371.20,90.04 L371.20,83.90 L371.20,77.76 L371.20,71.62 L371.20,65.47 L371.20,59.33 L371.20,53.19 L371.20,53.19 L371.20,59.33 L371.20,65.47 L371.20,71.62 L371.20,77.76 L371.20,83.90 L371.20,90.04 L371.18,90.29 L371.17,90.54 L371.15,90.79 L371.13,91.04 L371.12,91.29 L371.10,91.54 L371.05,92.17 L371.00,92.80 L370.95,93.42 L370.90,94.05 L370.85,94.68 L370.80,95.30 L370.70,95.93 L370.60,96.56 L370.50,97.18 L370.40,97.81 L370.30,98.44 L370.20,99.06 L370.07,99.69 L369.93,100.32 L369.80,100.94 L369.67,101.57 L369.53,102.20 L369.40,102.82 L369.30,103.33 L369.20,103.83 L369.10,104.33 L369.00,104.83 L368.90,105.33 L368.80,105.83 L368.80,106.33 L368.80,106.83 L368.80,107.34 L368.80,107.84 L368.80,108.34 L368.80,108.84 L368.95,109.34 L369.10,109.84 L369.25,110.34 L369.40,110.85 L369.55,111.35 L369.70,111.85 L369.95,111.97 L370.20,112.10 L370.45,112.22 L370.70,112.35 L370.95,112.47 L371.20,112.60 Z" fill="#3aae4a" stroke="#2a2a2a" stroke-width="0.55"/>
<line x1="371.20" y1="93.05" x2="371.20" y2="52.82" stroke="#333" stroke-width="0.8"/>
<path d="M390.85,109.22 L391.02,109.15 L391.18,109.09 L391.35,109.03 L391.52,108.97 L391.68,108.90 L391.85,108.84 L392.18,108.59 L392.52,108.34 L392.85,108.09 L393.18,107.84 L393.52,107.59 L393.85,107.34 L393.88,107.15 L393.92,106.96 L393.95,106.77 L393.98,106.58 L394.02,106.40 L394.05,106.21 L393.92,106.02 L393.78,105.83 L393.65,105.64 L393.52,105.46 L393.38,105.27 L393.25,105.08 L392.98,104.83 L392.72,104.58 L392.45,104.33 L392.18,104.08 L391.92,103.83 L391.65,103.58 L391.52,103.45 L391.38,103.33 L391.25,103.20 L391.12,103.07 L390.98,102.95 L390.85,102.82 L390.85,102.82 L390.72,102.95 L390.58,103.07 L390.45,103.20 L390.32,103.33 L390.18,103.45 L390.05,103.58 L389.78,103.83 L389.52,104.08 L389.25,104.33 L388.98,104.58 L388.72,104.83 L388.45,105.08 L388.32,105.27 L388.18,105.46 L388.05,105.64 L387.92,105.83 L387.78,106.02 L387.65,106.21 L387.68,106.40 L387.72,106.58 L387.75,106.77 L387.78,106.96 L387.82,107.15 L387.85,107.34 L388.18,107.59 L388.52,107.84 L388.85,108.09 L389.18,108.34 L389.52,108.59 L389.85,108.84 L390.02,108.90 L390.18,108.97 L390.35,109.03 L390.52,109.09 L390.68,109.15 L390.85,109.22 Z" fill="#f7941d" stroke="#2a2a2a" stroke-width="0.55"/>
<path d="M410.50,109.22 L410.83,109.15 L411.17,109.09 L411.50,109.03 L411.83,108.97 L412.17,108.90 L412.50,108.84 L412.92,108.59 L413.33,108.34 L413.75,108.09 L414.17,107.84 L414.58,107.59 L415.00,107.34 L414.95,107.15 L414.90,106.96 L414.85,106.77 L414.80,106.58 L414.75,106.40 L414.70,106.21 L414.42,106.02 L414.13,105.83 L413.85,105.64 L413.57,105.46 L413.28,105.27 L413.00,105.08 L412.58,105.02 L412.17,104.95 L411.75,104.89 L411.33,104.83 L410.92,104.77 L410.50,104.70 L410.50,104.70 L410.08,104.77 L409.67,104.83 L409.25,104.89 L408.83,104.95 L408.42,105.02 L408.00,105.08 L407.72,105.27 L407.43,105.46 L407.15,105.64 L406.87,105.83 L406.58,106.02 L406.30,106.21 L406.25,106.40 L406.20,106.58 L406.15,106.77 L406.10,106.96 L406.05,107.15 L406.00,107.34 L406.42,107.59 L406.83,107.84 L407.25,108.09 L407.67,108.34 L408.08,108.59 L408.50,108.84 L408.83,108.90 L409.17,108.97 L409.50,109.03 L409.83,109.09 L410.17,109.15 L410.50,109.22 Z" fill="#8e86cf" stroke="#2a2a2a" stroke-width="0.55"/>
<circle cx="363.77" cy="106.50" r="0.8" fill="#111"/>
<circle cx="367.66" cy="105.44" r="0.8" fill="#111"/>
<circle cx="365.05" cy="96.17" r="0.8" fill="#111"/>
<circle cx="369.69" cy="100.58" r="0.8" fill="#111"/>
<circle cx="364.33" cy="109.26" r="0.8" fill="#111"/>
<circle cx="364.04" cy="106.11" r="0.8" fill="#111"/>
<circle cx="368.26" cy="105.10" r="0.8" fill="#111"/>
<circle cx="367.19" cy="107.19" r="0.8" fill="#111"/>
<circle cx="372.48" cy="108.86" r="0.8" fill="#111"/>
<circle cx="371.64" cy="107.43" r="0.8" fill="#111"/>
<circle cx="374.96" cy="102.57" r="0.8" fill="#111"/>
<circle cx="373.56" cy="111.84" r="0.8" fill="#111"/>
<circle cx="374.44" cy="104.62" r="0.8" fill="#111"/>
<circle cx="376.89" cy="106.01" r="0.8" fill="#111"/>
<circle cx="369.54" cy="111.87" r="0.8" fill="#111"/>
<circle cx="368.59" cy="107.28" r="0.8" fill="#111"/>
<circle cx="378.47" cy="103.77" r="0.8" fill="#111"/>
<circle cx="365.94" cy="105.14" r="0.8" fill="#111"/>
<circle cx="374.56" cy="110.95" r="0.8" fill="#111"/>
<circle cx="373.35" cy="96.58" r="0.8" fill="#111"/>
<circle cx="364.36" cy="101.53" r="0.8" fill="#111"/>
<circle cx="376.23" cy="97.60" r="0.8" fill="#111"/>
<circle cx="377.08" cy="110.15" r="0.8" fill="#111"/>
<circle cx="373.11" cy="108.05" r="0.8" fill="#111"/>
<circle cx="374.71" cy="111.44" r="0.8" fill="#111"/>
<circle cx="375.88" cy="101.73" r="0.8" fill="#111"/>
<circle cx="365.79" cy="107.99" r="0.8" fill="#111"/>
<circle cx="371.56" cy="109.66" r="0.8" fill="#111"/>
<circle cx="371.27" cy="106.22" r="0.8" fill="#111"/>
<circle cx="376.22" cy="98.89" r="0.8" fill="#111"/>
<circle cx="375.77" cy="100.87" r="0.8" fill="#111"/>
<circle cx="376.10" cy="108.13" r="0.8" fill="#111"/>
<circle cx="372.46" cy="109.40" r="0.8" fill="#111"/>
<circle cx="377.09" cy="98.73" r="0.8" fill="#111"/>
<circle cx="373.94" cy="104.42" r="0.8" fill="#111"/>
<circle cx="374.10" cy="102.84" r="0.8" fill="#111"/>
<circle cx="367.15" cy="110.46" r="0.8" fill="#111"/>
<circle cx="364.17" cy="111.09" r="0.8" fill="#111"/>
<circle cx="365.70" cy="102.98" r="0.8" fill="#111"/>
<circle cx="369.11" cy="106.18" r="0.8" fill="#111"/>
<circle cx="365.27" cy="110.79" r="0.8" fill="#111"/>
<circle cx="376.24" cy="98.32" r="0.8" fill="#111"/>
<circle cx="372.08" cy="103.64" r="0.8" fill="#111"/>
<circle cx="373.12" cy="101.24" r="0.8" fill="#111"/>
<circle cx="373.09" cy="110.57" r="0.8" fill="#111"/>
<circle cx="373.91" cy="100.07" r="0.8" fill="#111"/>
<circle cx="371.04" cy="110.91" r="0.8" fill="#111"/>
<circle cx="363.75" cy="99.93" r="0.8" fill="#111"/>
<circle cx="375.67" cy="105.85" r="0.8" fill="#111"/>
<circle cx="374.92" cy="107.19" r="0.8" fill="#111"/>
<circle cx="371.24" cy="104.64" r="0.8" fill="#111"/>
<circle cx="371.73" cy="98.57" r="0.8" fill="#111"/>
<circle cx="373.59" cy="108.02" r="0.8" fill="#111"/>
<circle cx="364.69" cy="109.67" r="0.8" fill="#111"/>
<circle cx="374.75" cy="104.96" r="0.8" fill="#111"/>
<circle cx="367.48" cy="108.36" r="0.8" fill="#111"/>
<circle cx="364.82" cy="110.06" r="0.8" fill="#111"/>
<circle cx="367.68" cy="109.26" r="0.8" fill="#111"/>
<circle cx="374.64" cy="111.23" r="0.8" fill="#111"/>
<circle cx="366.78" cy="108.79" r="0.8" fill="#111"/>
<circle cx="374.80" cy="107.51" r="0.8" fill="#111"/>
<circle cx="378.34" cy="107.59" r="0.8" fill="#111"/>
<circle cx="371.11" cy="102.11" r="0.8" fill="#111"/>
<circle cx="369.44" cy="107.76" r="0.8" fill="#111"/>
<circle cx="370.89" cy="105.28" r="0.8" fill="#111"/>
<circle cx="373.96" cy="109.07" r="0.8" fill="#111"/>
<circle cx="375.20" cy="107.10" r="0.8" fill="#111"/>
<circle cx="372.95" cy="111.87" r="0.8" fill="#111"/>
<circle cx="373.34" cy="108.22" r="0.8" fill="#111"/>
<circle cx="364.86" cy="111.92" r="0.8" fill="#111"/>
<circle cx="365.91" cy="102.44" r="0.8" fill="#111"/>
<circle cx="367.51" cy="104.66" r="0.8" fill="#111"/>
<circle cx="374.85" cy="108.94" r="0.8" fill="#111"/>
<circle cx="368.27" cy="105.59" r="0.8" fill="#111"/>
<circle cx="372.22" cy="98.39" r="0.8" fill="#111"/>
<circle cx="363.89" cy="110.12" r="0.8" fill="#111"/>
<circle cx="364.61" cy="100.87" r="0.8" fill="#111"/>
<circle cx="367.73" cy="106.10" r="0.8" fill="#111"/>
<circle cx="373.78" cy="105.35" r="0.8" fill="#111"/>
<circle cx="374.08" cy="100.54" r="0.8" fill="#111"/>
<circle cx="373.84" cy="106.56" r="0.8" fill="#111"/>
<circle cx="368.06" cy="105.20" r="0.8" fill="#111"/>
<circle cx="371.45" cy="102.99" r="0.8" fill="#111"/>
<circle cx="370.67" cy="96.81" r="0.8" fill="#111"/>
<circle cx="370.70" cy="107.15" r="0.8" fill="#111"/>
<circle cx="365.48" cy="100.59" r="0.8" fill="#111"/>
<circle cx="377.10" cy="102.76" r="0.8" fill="#111"/>
<circle cx="366.69" cy="103.62" r="0.8" fill="#111"/>
<circle cx="378.37" cy="106.42" r="0.8" fill="#111"/>
<circle cx="377.74" cy="107.09" r="0.8" fill="#111"/>
<circle cx="363.96" cy="111.15" r="0.8" fill="#111"/>
<circle cx="370.58" cy="109.66" r="0.8" fill="#111"/>
<circle cx="376.00" cy="110.83" r="0.8" fill="#111"/>
<circle cx="378.22" cy="102.34" r="0.8" fill="#111"/>
<circle cx="370.44" cy="108.16" r="0.8" fill="#111"/>
<circle cx="367.73" cy="109.24" r="0.8" fill="#111"/>
<circle cx="366.85" cy="110.56" r="0.8" fill="#111"/>
<circle cx="377.88" cy="100.39" r="0.8" fill="#111"/>
<circle cx="366.86" cy="99.77" r="0.8" fill="#111"/>
<circle cx="372.42" cy="103.20" r="0.8" fill="#111"/>
<circle cx="365.83" cy="107.86" r="0.8" fill="#111"/>
<circle cx="371.56" cy="108.32" r="0.8" fill="#111"/>
<circle cx="377.99" cy="107.73" r="0.8" fill="#111"/>
<circle cx="365.69" cy="105.78" r="0.8" fill="#111"/>
<circle cx="376.00" cy="109.31" r="0.8" fill="#111"/>
<circle cx="371.33" cy="105.94" r="0.8" fill="#111"/>
<circle cx="377.00" cy="108.07" r="0.8" fill="#111"/>
<circle cx="374.25" cy="97.81" r="0.8" fill="#111"/>
<circle cx="367.17" cy="97.58" r="0.8" fill="#111"/>
<circle cx="377.17" cy="104.71" r="0.8" fill="#111"/>
<circle cx="370.99" cy="108.29" r="0.8" fill="#111"/>
<circle cx="364.07" cy="97.73" r="0.8" fill="#111"/>
<circle cx="363.75" cy="107.53" r="0.8" fill="#111"/>
<circle cx="371.08" cy="106.98" r="0.8" fill="#111"/>
<circle cx="370.46" cy="112.20" r="0.8" fill="#111"/>
<circle cx="368.23" cy="106.69" r="0.8" fill="#111"/>
<circle cx="365.81" cy="105.60" r="0.8" fill="#111"/>
<circle cx="368.86" cy="105.25" r="0.8" fill="#111"/>
<circle cx="368.44" cy="108.80" r="0.8" fill="#111"/>
<circle cx="376.30" cy="105.23" r="0.8" fill="#111"/>
<circle cx="368.68" cy="96.04" r="0.8" fill="#111"/>
<circle cx="369.67" cy="90.98" r="0.8" fill="#111"/>
<circle cx="369.91" cy="90.38" r="0.8" fill="#111"/>
<circle cx="377.19" cy="95.24" r="0.8" fill="#111"/>
<circle cx="372.27" cy="89.79" r="0.8" fill="#111"/>
<circle cx="369.53" cy="91.23" r="0.8" fill="#111"/>
<circle cx="370.34" cy="89.95" r="0.8" fill="#111"/>
<circle cx="366.20" cy="86.28" r="0.8" fill="#111"/>
<circle cx="364.70" cy="80.26" r="0.8" fill="#111"/>
<circle cx="367.20" cy="73.50" r="0.8" fill="#111"/>
<circle cx="367.70" cy="72.74" r="0.8" fill="#111"/>
<circle cx="368.70" cy="53.19" r="0.8" fill="#111"/>
<circle cx="372.70" cy="78.01" r="0.8" fill="#111"/>
<circle cx="391.82" cy="108.15" r="0.8" fill="#111"/>
<circle cx="389.05" cy="109.96" r="0.8" fill="#111"/>
<circle cx="385.19" cy="109.53" r="0.8" fill="#111"/>
<circle cx="385.10" cy="104.34" r="0.8" fill="#111"/>
<circle cx="385.88" cy="108.07" r="0.8" fill="#111"/>
<circle cx="397.75" cy="103.42" r="0.8" fill="#111"/>
<circle cx="390.80" cy="108.36" r="0.8" fill="#111"/>
<circle cx="386.09" cy="108.23" r="0.8" fill="#111"/>
<circle cx="397.76" cy="106.54" r="0.8" fill="#111"/>
<circle cx="399.29" cy="108.83" r="0.8" fill="#111"/>
<circle cx="390.00" cy="107.37" r="0.8" fill="#111"/>
<circle cx="384.72" cy="103.23" r="0.8" fill="#111"/>
<circle cx="385.62" cy="103.89" r="0.8" fill="#111"/>
<circle cx="383.89" cy="104.55" r="0.8" fill="#111"/>
<circle cx="388.16" cy="105.82" r="0.8" fill="#111"/>
<circle cx="383.90" cy="103.62" r="0.8" fill="#111"/>
<circle cx="386.42" cy="103.37" r="0.8" fill="#111"/>
<circle cx="386.74" cy="106.31" r="0.8" fill="#111"/>
<circle cx="392.03" cy="105.29" r="0.8" fill="#111"/>
<circle cx="397.43" cy="109.95" r="0.8" fill="#111"/>
<circle cx="395.09" cy="105.21" r="0.8" fill="#111"/>
<circle cx="389.37" cy="106.90" r="0.8" fill="#111"/>
<circle cx="389.39" cy="105.09" r="0.8" fill="#111"/>
<circle cx="391.26" cy="105.74" r="0.8" fill="#111"/>
<circle cx="388.76" cy="108.06" r="0.8" fill="#111"/>
<circle cx="388.10" cy="109.95" r="0.8" fill="#111"/>
<circle cx="383.41" cy="103.50" r="0.8" fill="#111"/>
<circle cx="387.07" cy="109.33" r="0.8" fill="#111"/>
<circle cx="398.80" cy="106.77" r="0.8" fill="#111"/>
<circle cx="384.49" cy="107.60" r="0.8" fill="#111"/>
<circle cx="390.91" cy="107.97" r="0.8" fill="#111"/>
<circle cx="393.05" cy="105.17" r="0.8" fill="#111"/>
<circle cx="397.02" cy="103.04" r="0.8" fill="#111"/>
<circle cx="386.02" cy="108.27" r="0.8" fill="#111"/>
<circle cx="386.96" cy="105.67" r="0.8" fill="#111"/>
<circle cx="386.57" cy="107.95" r="0.8" fill="#111"/>
<circle cx="415.06" cy="107.93" r="0.8" fill="#111"/>
<circle cx="415.48" cy="107.70" r="0.8" fill="#111"/>
<circle cx="417.11" cy="104.96" r="0.8" fill="#111"/>
<circle cx="406.98" cy="105.53" r="0.8" fill="#111"/>
<circle cx="405.03" cy="105.40" r="0.8" fill="#111"/>
<circle cx="405.66" cy="109.86" r="0.8" fill="#111"/>
<circle cx="410.81" cy="109.80" r="0.8" fill="#111"/>
<circle cx="413.05" cy="106.29" r="0.8" fill="#111"/>
<circle cx="416.68" cy="105.27" r="0.8" fill="#111"/>
<circle cx="413.60" cy="107.56" r="0.8" fill="#111"/>
<circle cx="412.56" cy="106.95" r="0.8" fill="#111"/>
<circle cx="414.21" cy="109.97" r="0.8" fill="#111"/>
<circle cx="409.90" cy="107.98" r="0.8" fill="#111"/>
<circle cx="411.22" cy="105.10" r="0.8" fill="#111"/>
<path d="M371.20,44.80 L371.20,43.30 L410.50,43.30 L410.50,44.80" fill="none" stroke="#222" stroke-width="1.0"/>
<text x="390.85" y="44.30" font-size="7.0" text-anchor="middle" font-weight="bold" fill="#222" >**</text>
<path d="M390.85,37.00 L390.85,35.50 L410.50,35.50 L410.50,37.00" fill="none" stroke="#222" stroke-width="1.0"/>
<text x="400.68" y="34.30" font-size="6.4" text-anchor="middle" font-weight="normal" fill="#333" stroke="#333" stroke-width="0.2" >ns</text>
<text x="482.30" y="21.40" font-size="7.6" text-anchor="middle" font-weight="normal" fill="#231f20" stroke="#231f20" stroke-width="0.2" >CRP, mg/L</text>
<line x1="450.5" y1="32.1" x2="450.5" y2="116.6" stroke="#333" stroke-width="1.0"/>
<line x1="450.1" y1="116.1" x2="513.2" y2="116.1" stroke="#333" stroke-width="1.1"/>
<line x1="448.5" y1="112.20" x2="450.5" y2="112.20" stroke="#333" stroke-width="0.8"/>
<text x="445.50" y="114.40" font-size="6.5" text-anchor="end" font-weight="normal" fill="#333" stroke="#333" stroke-width="0.2" >0</text>
<line x1="448.5" y1="95.75" x2="450.5" y2="95.75" stroke="#333" stroke-width="0.8"/>
<text x="445.50" y="97.95" font-size="6.5" text-anchor="end" font-weight="normal" fill="#333" stroke="#333" stroke-width="0.2" >100</text>
<line x1="448.5" y1="79.30" x2="450.5" y2="79.30" stroke="#333" stroke-width="0.8"/>
<text x="445.50" y="81.50" font-size="6.5" text-anchor="end" font-weight="normal" fill="#333" stroke="#333" stroke-width="0.2" >200</text>
<line x1="448.5" y1="62.85" x2="450.5" y2="62.85" stroke="#333" stroke-width="0.8"/>
<text x="445.50" y="65.05" font-size="6.5" text-anchor="end" font-weight="normal" fill="#333" stroke="#333" stroke-width="0.2" >300</text>
<line x1="448.5" y1="46.40" x2="450.5" y2="46.40" stroke="#333" stroke-width="0.8"/>
<text x="445.50" y="48.60" font-size="6.5" text-anchor="end" font-weight="normal" fill="#333" stroke="#333" stroke-width="0.2" >400</text>
<line x1="462.20" y1="116.1" x2="462.20" y2="118.1" stroke="#333" stroke-width="0.8"/>
<text transform="translate(465.60 126.00) rotate(-45)" font-size="6.5" text-anchor="end" fill="#333" stroke="#333" stroke-width="0.2">iMCD</text>
<line x1="481.85" y1="116.1" x2="481.85" y2="118.1" stroke="#333" stroke-width="0.8"/>
<text transform="translate(485.25 126.00) rotate(-45)" font-size="6.5" text-anchor="end" fill="#333" stroke="#333" stroke-width="0.2">UCD</text>
<line x1="501.50" y1="116.1" x2="501.50" y2="118.1" stroke="#333" stroke-width="0.8"/>
<text transform="translate(504.90 126.00) rotate(-45)" font-size="6.5" text-anchor="end" fill="#333" stroke="#333" stroke-width="0.2">OligoCD</text>
<path d="M462.20,112.20 L462.50,112.17 L462.80,112.15 L463.10,112.12 L463.40,112.09 L463.70,112.06 L464.00,112.04 L464.03,111.79 L464.07,111.54 L464.10,111.30 L464.13,111.05 L464.17,110.80 L464.20,110.56 L464.03,110.01 L463.87,109.46 L463.70,108.91 L463.53,108.36 L463.37,107.81 L463.20,107.27 L463.08,106.44 L462.97,105.62 L462.85,104.80 L462.73,103.98 L462.62,103.15 L462.50,102.33 L462.45,101.23 L462.40,100.14 L462.35,99.04 L462.30,97.94 L462.25,96.85 L462.20,95.75 L462.20,88.62 L462.20,81.49 L462.20,74.37 L462.20,67.24 L462.20,60.11 L462.20,52.98 L462.20,52.98 L462.20,60.11 L462.20,67.24 L462.20,74.37 L462.20,81.49 L462.20,88.62 L462.20,95.75 L462.15,96.85 L462.10,97.94 L462.05,99.04 L462.00,100.14 L461.95,101.23 L461.90,102.33 L461.78,103.15 L461.67,103.98 L461.55,104.80 L461.43,105.62 L461.32,106.44 L461.20,107.27 L461.03,107.81 L460.87,108.36 L460.70,108.91 L460.53,109.46 L460.37,110.01 L460.20,110.56 L460.23,110.80 L460.27,111.05 L460.30,111.30 L460.33,111.54 L460.37,111.79 L460.40,112.04 L460.70,112.06 L461.00,112.09 L461.30,112.12 L461.60,112.15 L461.90,112.17 L462.20,112.20 Z" fill="#3aae4a" stroke="#2a2a2a" stroke-width="0.55"/>
<line x1="462.20" y1="102.33" x2="462.20" y2="52.65" stroke="#333" stroke-width="0.8"/>
<path d="M481.85,112.20 L482.27,112.17 L482.68,112.15 L483.10,112.12 L483.52,112.09 L483.93,112.06 L484.35,112.04 L484.40,111.84 L484.45,111.65 L484.50,111.46 L484.55,111.27 L484.60,111.08 L484.65,110.88 L484.38,110.69 L484.12,110.50 L483.85,110.31 L483.58,110.12 L483.32,109.92 L483.05,109.73 L482.85,109.46 L482.65,109.18 L482.45,108.91 L482.25,108.64 L482.05,108.36 L481.85,108.09 L481.85,105.48 L481.85,102.88 L481.85,100.27 L481.85,97.67 L481.85,95.06 L481.85,92.46 L481.85,92.46 L481.85,95.06 L481.85,97.67 L481.85,100.27 L481.85,102.88 L481.85,105.48 L481.85,108.09 L481.65,108.36 L481.45,108.64 L481.25,108.91 L481.05,109.18 L480.85,109.46 L480.65,109.73 L480.38,109.92 L480.12,110.12 L479.85,110.31 L479.58,110.50 L479.32,110.69 L479.05,110.88 L479.10,111.08 L479.15,111.27 L479.20,111.46 L479.25,111.65 L479.30,111.84 L479.35,112.04 L479.77,112.06 L480.18,112.09 L480.60,112.12 L481.02,112.15 L481.43,112.17 L481.85,112.20 Z" fill="#f7941d" stroke="#2a2a2a" stroke-width="0.55"/>
<line x1="481.85" y1="108.91" x2="481.85" y2="92.30" stroke="#333" stroke-width="0.8"/>
<path d="M501.50,112.20 L502.50,112.19 L503.50,112.17 L504.50,112.16 L505.50,112.15 L506.50,112.13 L507.50,112.12 L507.83,112.05 L508.17,111.98 L508.50,111.91 L508.83,111.84 L509.17,111.78 L509.50,111.71 L508.83,111.65 L508.17,111.60 L507.50,111.54 L506.83,111.49 L506.17,111.43 L505.50,111.38 L504.83,111.35 L504.17,111.32 L503.50,111.30 L502.83,111.27 L502.17,111.24 L501.50,111.21 L501.50,111.21 L500.83,111.24 L500.17,111.27 L499.50,111.30 L498.83,111.32 L498.17,111.35 L497.50,111.38 L496.83,111.43 L496.17,111.49 L495.50,111.54 L494.83,111.60 L494.17,111.65 L493.50,111.71 L493.83,111.78 L494.17,111.84 L494.50,111.91 L494.83,111.98 L495.17,112.05 L495.50,112.12 L496.50,112.13 L497.50,112.15 L498.50,112.16 L499.50,112.17 L500.50,112.19 L501.50,112.20 Z" fill="#8e86cf" stroke="#2a2a2a" stroke-width="0.55"/>
<circle cx="469.00" cy="112.12" r="0.8" fill="#111"/>
<circle cx="457.83" cy="110.66" r="0.8" fill="#111"/>
<circle cx="454.75" cy="111.74" r="0.8" fill="#111"/>
<circle cx="459.61" cy="110.38" r="0.8" fill="#111"/>
<circle cx="460.93" cy="110.93" r="0.8" fill="#111"/>
<circle cx="465.12" cy="111.60" r="0.8" fill="#111"/>
<circle cx="457.37" cy="111.95" r="0.8" fill="#111"/>
<circle cx="466.95" cy="111.70" r="0.8" fill="#111"/>
<circle cx="466.03" cy="110.94" r="0.8" fill="#111"/>
<circle cx="462.28" cy="110.82" r="0.8" fill="#111"/>
<circle cx="457.48" cy="111.98" r="0.8" fill="#111"/>
<circle cx="469.72" cy="112.06" r="0.8" fill="#111"/>
<circle cx="459.19" cy="111.16" r="0.8" fill="#111"/>
<circle cx="467.32" cy="111.05" r="0.8" fill="#111"/>
<circle cx="457.89" cy="111.43" r="0.8" fill="#111"/>
<circle cx="457.74" cy="111.76" r="0.8" fill="#111"/>
<circle cx="466.37" cy="111.01" r="0.8" fill="#111"/>
<circle cx="458.92" cy="112.18" r="0.8" fill="#111"/>
<circle cx="469.43" cy="111.60" r="0.8" fill="#111"/>
<circle cx="462.13" cy="111.29" r="0.8" fill="#111"/>
<circle cx="457.20" cy="110.31" r="0.8" fill="#111"/>
<circle cx="457.77" cy="110.93" r="0.8" fill="#111"/>
<circle cx="460.87" cy="110.46" r="0.8" fill="#111"/>
<circle cx="464.84" cy="111.26" r="0.8" fill="#111"/>
<circle cx="469.38" cy="111.74" r="0.8" fill="#111"/>
<circle cx="456.54" cy="111.71" r="0.8" fill="#111"/>
<circle cx="460.50" cy="110.30" r="0.8" fill="#111"/>
<circle cx="457.61" cy="110.81" r="0.8" fill="#111"/>
<circle cx="469.79" cy="111.59" r="0.8" fill="#111"/>
<circle cx="456.47" cy="112.16" r="0.8" fill="#111"/>
<circle cx="455.03" cy="111.22" r="0.8" fill="#111"/>
<circle cx="455.16" cy="110.87" r="0.8" fill="#111"/>
<circle cx="460.49" cy="111.37" r="0.8" fill="#111"/>
<circle cx="468.57" cy="111.69" r="0.8" fill="#111"/>
<circle cx="468.34" cy="110.88" r="0.8" fill="#111"/>
<circle cx="469.05" cy="82.85" r="0.8" fill="#111"/>
<circle cx="469.01" cy="58.44" r="0.8" fill="#111"/>
<circle cx="460.50" cy="70.49" r="0.8" fill="#111"/>
<circle cx="458.47" cy="98.64" r="0.8" fill="#111"/>
<circle cx="461.15" cy="103.70" r="0.8" fill="#111"/>
<circle cx="462.10" cy="70.16" r="0.8" fill="#111"/>
<circle cx="468.62" cy="82.28" r="0.8" fill="#111"/>
<circle cx="457.44" cy="109.10" r="0.8" fill="#111"/>
<circle cx="466.74" cy="85.73" r="0.8" fill="#111"/>
<circle cx="465.78" cy="96.91" r="0.8" fill="#111"/>
<circle cx="467.04" cy="97.07" r="0.8" fill="#111"/>
<circle cx="466.29" cy="98.56" r="0.8" fill="#111"/>
<circle cx="463.81" cy="104.27" r="0.8" fill="#111"/>
<circle cx="459.62" cy="110.13" r="0.8" fill="#111"/>
<circle cx="459.49" cy="100.38" r="0.8" fill="#111"/>
<circle cx="460.13" cy="97.86" r="0.8" fill="#111"/>
<circle cx="466.43" cy="67.30" r="0.8" fill="#111"/>
<circle cx="455.89" cy="105.87" r="0.8" fill="#111"/>
<circle cx="457.66" cy="65.46" r="0.8" fill="#111"/>
<circle cx="465.99" cy="102.93" r="0.8" fill="#111"/>
<circle cx="458.41" cy="97.68" r="0.8" fill="#111"/>
<circle cx="455.67" cy="78.94" r="0.8" fill="#111"/>
<circle cx="455.21" cy="78.90" r="0.8" fill="#111"/>
<circle cx="462.99" cy="95.01" r="0.8" fill="#111"/>
<circle cx="459.59" cy="108.49" r="0.8" fill="#111"/>
<circle cx="469.40" cy="93.57" r="0.8" fill="#111"/>
<circle cx="467.95" cy="97.12" r="0.8" fill="#111"/>
<circle cx="469.52" cy="71.42" r="0.8" fill="#111"/>
<circle cx="458.67" cy="103.44" r="0.8" fill="#111"/>
<circle cx="455.96" cy="97.41" r="0.8" fill="#111"/>
<circle cx="456.15" cy="73.15" r="0.8" fill="#111"/>
<circle cx="462.18" cy="109.16" r="0.8" fill="#111"/>
<circle cx="465.35" cy="95.78" r="0.8" fill="#111"/>
<circle cx="461.40" cy="79.51" r="0.8" fill="#111"/>
<circle cx="458.21" cy="81.42" r="0.8" fill="#111"/>
<circle cx="460.95" cy="108.80" r="0.8" fill="#111"/>
<circle cx="464.00" cy="109.00" r="0.8" fill="#111"/>
<circle cx="464.81" cy="108.02" r="0.8" fill="#111"/>
<circle cx="465.92" cy="71.38" r="0.8" fill="#111"/>
<circle cx="467.40" cy="101.19" r="0.8" fill="#111"/>
<circle cx="464.67" cy="82.24" r="0.8" fill="#111"/>
<circle cx="456.52" cy="73.03" r="0.8" fill="#111"/>
<circle cx="467.31" cy="98.30" r="0.8" fill="#111"/>
<circle cx="459.11" cy="100.65" r="0.8" fill="#111"/>
<circle cx="463.20" cy="66.84" r="0.8" fill="#111"/>
<circle cx="460.29" cy="87.74" r="0.8" fill="#111"/>
<circle cx="465.77" cy="101.00" r="0.8" fill="#111"/>
<circle cx="457.69" cy="83.53" r="0.8" fill="#111"/>
<circle cx="458.41" cy="99.09" r="0.8" fill="#111"/>
<circle cx="458.38" cy="100.53" r="0.8" fill="#111"/>
<circle cx="457.00" cy="110.09" r="0.8" fill="#111"/>
<circle cx="467.96" cy="81.88" r="0.8" fill="#111"/>
<circle cx="463.37" cy="71.65" r="0.8" fill="#111"/>
<circle cx="459.60" cy="87.02" r="0.8" fill="#111"/>
<circle cx="460.64" cy="69.60" r="0.8" fill="#111"/>
<circle cx="469.59" cy="109.37" r="0.8" fill="#111"/>
<circle cx="462.31" cy="102.00" r="0.8" fill="#111"/>
<circle cx="458.17" cy="93.51" r="0.8" fill="#111"/>
<circle cx="468.70" cy="52.98" r="0.8" fill="#111"/>
<circle cx="454.70" cy="57.91" r="0.8" fill="#111"/>
<circle cx="467.70" cy="64.50" r="0.8" fill="#111"/>
<circle cx="468.70" cy="66.14" r="0.8" fill="#111"/>
<circle cx="483.39" cy="110.60" r="0.8" fill="#111"/>
<circle cx="483.77" cy="110.91" r="0.8" fill="#111"/>
<circle cx="477.33" cy="110.24" r="0.8" fill="#111"/>
<circle cx="479.75" cy="112.00" r="0.8" fill="#111"/>
<circle cx="476.11" cy="111.26" r="0.8" fill="#111"/>
<circle cx="477.11" cy="110.58" r="0.8" fill="#111"/>
<circle cx="477.93" cy="110.54" r="0.8" fill="#111"/>
<circle cx="483.44" cy="110.40" r="0.8" fill="#111"/>
<circle cx="484.28" cy="112.12" r="0.8" fill="#111"/>
<circle cx="477.11" cy="111.62" r="0.8" fill="#111"/>
<circle cx="474.03" cy="111.96" r="0.8" fill="#111"/>
<circle cx="479.09" cy="111.83" r="0.8" fill="#111"/>
<circle cx="484.70" cy="110.28" r="0.8" fill="#111"/>
<circle cx="476.81" cy="111.05" r="0.8" fill="#111"/>
<circle cx="478.85" cy="110.36" r="0.8" fill="#111"/>
<circle cx="477.10" cy="111.47" r="0.8" fill="#111"/>
<circle cx="486.57" cy="110.49" r="0.8" fill="#111"/>
<circle cx="482.62" cy="111.31" r="0.8" fill="#111"/>
<circle cx="474.86" cy="111.69" r="0.8" fill="#111"/>
<circle cx="475.47" cy="110.66" r="0.8" fill="#111"/>
<circle cx="480.17" cy="110.33" r="0.8" fill="#111"/>
<circle cx="482.65" cy="111.99" r="0.8" fill="#111"/>
<circle cx="488.85" cy="92.46" r="0.8" fill="#111"/>
<circle cx="507.69" cy="111.88" r="0.8" fill="#111"/>
<circle cx="509.94" cy="112.16" r="0.8" fill="#111"/>
<circle cx="499.18" cy="112.12" r="0.8" fill="#111"/>
<circle cx="496.35" cy="111.86" r="0.8" fill="#111"/>
<circle cx="505.38" cy="112.00" r="0.8" fill="#111"/>
<circle cx="496.46" cy="112.06" r="0.8" fill="#111"/>
<circle cx="493.10" cy="112.05" r="0.8" fill="#111"/>
<circle cx="508.33" cy="111.73" r="0.8" fill="#111"/>
<circle cx="500.20" cy="112.05" r="0.8" fill="#111"/>
<circle cx="506.95" cy="111.92" r="0.8" fill="#111"/>
<circle cx="499.91" cy="112.02" r="0.8" fill="#111"/>
<circle cx="508.01" cy="111.99" r="0.8" fill="#111"/>
<path d="M462.20,44.80 L462.20,43.30 L501.50,43.30 L501.50,44.80" fill="none" stroke="#222" stroke-width="1.0"/>
<text x="481.85" y="44.30" font-size="7.0" text-anchor="middle" font-weight="bold" fill="#222" >**</text>
<path d="M481.85,37.00 L481.85,35.50 L501.50,35.50 L501.50,37.00" fill="none" stroke="#222" stroke-width="1.0"/>
<text x="491.68" y="34.30" font-size="6.4" text-anchor="middle" font-weight="normal" fill="#333" stroke="#333" stroke-width="0.2" >ns</text>
<text x="300.40" y="160.10" font-size="7.6" text-anchor="middle" font-weight="normal" fill="#231f20" stroke="#231f20" stroke-width="0.2" >Hemoglobin, g/dL</text>
<line x1="268.6" y1="171.2" x2="268.6" y2="255.2" stroke="#333" stroke-width="1.0"/>
<line x1="268.20000000000005" y1="254.7" x2="331.3" y2="254.7" stroke="#333" stroke-width="1.1"/>
<line x1="266.6" y1="250.50" x2="268.6" y2="250.50" stroke="#333" stroke-width="0.8"/>
<text x="263.60" y="252.70" font-size="6.5" text-anchor="end" font-weight="normal" fill="#333" stroke="#333" stroke-width="0.2" >5</text>
<line x1="266.6" y1="225.63" x2="268.6" y2="225.63" stroke="#333" stroke-width="0.8"/>
<text x="263.60" y="227.83" font-size="6.5" text-anchor="end" font-weight="normal" fill="#333" stroke="#333" stroke-width="0.2" >10</text>
<line x1="266.6" y1="200.77" x2="268.6" y2="200.77" stroke="#333" stroke-width="0.8"/>
<text x="263.60" y="202.97" font-size="6.5" text-anchor="end" font-weight="normal" fill="#333" stroke="#333" stroke-width="0.2" >15</text>
<line x1="266.6" y1="175.91" x2="268.6" y2="175.91" stroke="#333" stroke-width="0.8"/>
<text x="263.60" y="178.10" font-size="6.5" text-anchor="end" font-weight="normal" fill="#333" stroke="#333" stroke-width="0.2" >20</text>
<line x1="280.30" y1="254.7" x2="280.30" y2="256.7" stroke="#333" stroke-width="0.8"/>
<text transform="translate(283.70 264.60) rotate(-45)" font-size="6.5" text-anchor="end" fill="#333" stroke="#333" stroke-width="0.2">iMCD</text>
<line x1="299.95" y1="254.7" x2="299.95" y2="256.7" stroke="#333" stroke-width="0.8"/>
<text transform="translate(303.35 264.60) rotate(-45)" font-size="6.5" text-anchor="end" fill="#333" stroke="#333" stroke-width="0.2">UCD</text>
<line x1="319.60" y1="254.7" x2="319.60" y2="256.7" stroke="#333" stroke-width="0.8"/>
<text transform="translate(323.00 264.60) rotate(-45)" font-size="6.5" text-anchor="end" fill="#333" stroke="#333" stroke-width="0.2">OligoCD</text>
<path d="M280.30,250.50 L280.43,249.67 L280.57,248.84 L280.70,248.01 L280.83,247.18 L280.97,246.36 L281.10,245.53 L281.43,243.87 L281.77,242.21 L282.10,240.55 L282.43,238.90 L282.77,237.24 L283.10,235.58 L283.40,233.92 L283.70,232.27 L284.00,230.61 L284.30,228.95 L284.60,227.29 L284.90,225.63 L284.97,224.39 L285.03,223.15 L285.10,221.91 L285.17,220.66 L285.23,219.42 L285.30,218.18 L285.27,216.93 L285.23,215.69 L285.20,214.45 L285.17,213.20 L285.13,211.96 L285.10,210.72 L284.88,209.89 L284.67,209.06 L284.45,208.23 L284.23,207.40 L284.02,206.57 L283.80,205.74 L283.58,204.91 L283.37,204.09 L283.15,203.26 L282.93,202.43 L282.72,201.60 L282.50,200.77 L282.30,199.94 L282.10,199.11 L281.90,198.28 L281.70,197.45 L281.50,196.63 L281.30,195.80 L281.13,195.55 L280.97,195.30 L280.80,195.05 L280.63,194.80 L280.47,194.55 L280.30,194.31 L280.30,194.31 L280.13,194.55 L279.97,194.80 L279.80,195.05 L279.63,195.30 L279.47,195.55 L279.30,195.80 L279.10,196.63 L278.90,197.45 L278.70,198.28 L278.50,199.11 L278.30,199.94 L278.10,200.77 L277.88,201.60 L277.67,202.43 L277.45,203.26 L277.23,204.09 L277.02,204.91 L276.80,205.74 L276.58,206.57 L276.37,207.40 L276.15,208.23 L275.93,209.06 L275.72,209.89 L275.50,210.72 L275.47,211.96 L275.43,213.20 L275.40,214.45 L275.37,215.69 L275.33,216.93 L275.30,218.18 L275.37,219.42 L275.43,220.66 L275.50,221.91 L275.57,223.15 L275.63,224.39 L275.70,225.63 L276.00,227.29 L276.30,228.95 L276.60,230.61 L276.90,232.27 L277.20,233.92 L277.50,235.58 L277.83,237.24 L278.17,238.90 L278.50,240.55 L278.83,242.21 L279.17,243.87 L279.50,245.53 L279.63,246.36 L279.77,247.18 L279.90,248.01 L280.03,248.84 L280.17,249.67 L280.30,250.50 Z" fill="#3aae4a" stroke="#2a2a2a" stroke-width="0.55"/>
<path d="M299.95,231.11 L300.25,231.06 L300.55,231.02 L300.85,230.98 L301.15,230.94 L301.45,230.90 L301.75,230.86 L301.77,229.99 L301.78,229.12 L301.80,228.25 L301.82,227.38 L301.83,226.51 L301.85,225.63 L301.92,224.81 L301.98,223.98 L302.05,223.15 L302.12,222.32 L302.18,221.49 L302.25,220.66 L302.43,220.16 L302.62,219.67 L302.80,219.17 L302.98,218.67 L303.17,218.18 L303.35,217.68 L303.65,217.35 L303.95,217.02 L304.25,216.68 L304.55,216.35 L304.85,216.02 L305.15,215.69 L305.70,214.86 L306.25,214.03 L306.80,213.20 L307.35,212.37 L307.90,211.54 L308.45,210.72 L308.50,210.30 L308.55,209.89 L308.60,209.47 L308.65,209.06 L308.70,208.64 L308.75,208.23 L308.45,207.40 L308.15,206.57 L307.85,205.74 L307.55,204.91 L307.25,204.09 L306.95,203.26 L306.45,202.43 L305.95,201.60 L305.45,200.77 L304.95,199.94 L304.45,199.11 L303.95,198.28 L303.53,197.45 L303.12,196.63 L302.70,195.80 L302.28,194.97 L301.87,194.14 L301.45,193.31 L301.20,192.98 L300.95,192.65 L300.70,192.32 L300.45,191.98 L300.20,191.65 L299.95,191.32 L299.95,191.32 L299.70,191.65 L299.45,191.98 L299.20,192.32 L298.95,192.65 L298.70,192.98 L298.45,193.31 L298.03,194.14 L297.62,194.97 L297.20,195.80 L296.78,196.63 L296.37,197.45 L295.95,198.28 L295.45,199.11 L294.95,199.94 L294.45,200.77 L293.95,201.60 L293.45,202.43 L292.95,203.26 L292.65,204.09 L292.35,204.91 L292.05,205.74 L291.75,206.57 L291.45,207.40 L291.15,208.23 L291.20,208.64 L291.25,209.06 L291.30,209.47 L291.35,209.89 L291.40,210.30 L291.45,210.72 L292.00,211.54 L292.55,212.37 L293.10,213.20 L293.65,214.03 L294.20,214.86 L294.75,215.69 L295.05,216.02 L295.35,216.35 L295.65,216.68 L295.95,217.02 L296.25,217.35 L296.55,217.68 L296.73,218.18 L296.92,218.67 L297.10,219.17 L297.28,219.67 L297.47,220.16 L297.65,220.66 L297.72,221.49 L297.78,222.32 L297.85,223.15 L297.92,223.98 L297.98,224.81 L298.05,225.63 L298.07,226.51 L298.08,227.38 L298.10,228.25 L298.12,229.12 L298.13,229.99 L298.15,230.86 L298.45,230.90 L298.75,230.94 L299.05,230.98 L299.35,231.02 L299.65,231.06 L299.95,231.11 Z" fill="#f7941d" stroke="#2a2a2a" stroke-width="0.55"/>
<path d="M319.60,222.65 L320.13,222.63 L320.67,222.62 L321.20,222.60 L321.73,222.58 L322.27,222.57 L322.80,222.55 L323.18,221.82 L323.57,221.09 L323.95,220.36 L324.33,219.63 L324.72,218.90 L325.10,218.18 L325.52,217.35 L325.93,216.52 L326.35,215.69 L326.77,214.86 L327.18,214.03 L327.60,213.20 L327.63,212.37 L327.67,211.54 L327.70,210.72 L327.73,209.89 L327.77,209.06 L327.80,208.23 L327.35,207.40 L326.90,206.57 L326.45,205.74 L326.00,204.91 L325.55,204.09 L325.10,203.26 L324.77,202.43 L324.43,201.60 L324.10,200.77 L323.77,199.94 L323.43,199.11 L323.10,198.28 L323.02,197.45 L322.93,196.63 L322.85,195.80 L322.77,194.97 L322.68,194.14 L322.60,193.31 L322.10,192.90 L321.60,192.48 L321.10,192.07 L320.60,191.65 L320.10,191.24 L319.60,190.82 L319.60,190.82 L319.10,191.24 L318.60,191.65 L318.10,192.07 L317.60,192.48 L317.10,192.90 L316.60,193.31 L316.52,194.14 L316.43,194.97 L316.35,195.80 L316.27,196.63 L316.18,197.45 L316.10,198.28 L315.77,199.11 L315.43,199.94 L315.10,200.77 L314.77,201.60 L314.43,202.43 L314.10,203.26 L313.65,204.09 L313.20,204.91 L312.75,205.74 L312.30,206.57 L311.85,207.40 L311.40,208.23 L311.43,209.06 L311.47,209.89 L311.50,210.72 L311.53,211.54 L311.57,212.37 L311.60,213.20 L312.02,214.03 L312.43,214.86 L312.85,215.69 L313.27,216.52 L313.68,217.35 L314.10,218.18 L314.48,218.90 L314.87,219.63 L315.25,220.36 L315.63,221.09 L316.02,221.82 L316.40,222.55 L316.93,222.57 L317.47,222.58 L318.00,222.60 L318.53,222.62 L319.07,222.63 L319.60,222.65 Z" fill="#8e86cf" stroke="#2a2a2a" stroke-width="0.55"/>
<circle cx="282.25" cy="220.88" r="0.8" fill="#111"/>
<circle cx="278.71" cy="233.38" r="0.8" fill="#111"/>
<circle cx="284.77" cy="245.21" r="0.8" fill="#111"/>
<circle cx="276.77" cy="217.63" r="0.8" fill="#111"/>
<circle cx="287.66" cy="214.49" r="0.8" fill="#111"/>
<circle cx="281.46" cy="203.18" r="0.8" fill="#111"/>
<circle cx="278.20" cy="238.10" r="0.8" fill="#111"/>
<circle cx="284.27" cy="215.14" r="0.8" fill="#111"/>
<circle cx="279.43" cy="224.11" r="0.8" fill="#111"/>
<circle cx="275.45" cy="219.31" r="0.8" fill="#111"/>
<circle cx="283.95" cy="234.15" r="0.8" fill="#111"/>
<circle cx="273.52" cy="227.74" r="0.8" fill="#111"/>
<circle cx="285.10" cy="218.71" r="0.8" fill="#111"/>
<circle cx="276.60" cy="202.23" r="0.8" fill="#111"/>
<circle cx="282.39" cy="236.20" r="0.8" fill="#111"/>
<circle cx="287.56" cy="219.81" r="0.8" fill="#111"/>
<circle cx="281.59" cy="208.35" r="0.8" fill="#111"/>
<circle cx="282.76" cy="198.90" r="0.8" fill="#111"/>
<circle cx="277.49" cy="231.75" r="0.8" fill="#111"/>
<circle cx="272.83" cy="235.05" r="0.8" fill="#111"/>
<circle cx="273.31" cy="201.16" r="0.8" fill="#111"/>
<circle cx="275.04" cy="197.97" r="0.8" fill="#111"/>
<circle cx="282.04" cy="220.09" r="0.8" fill="#111"/>
<circle cx="279.28" cy="241.52" r="0.8" fill="#111"/>
<circle cx="280.49" cy="202.19" r="0.8" fill="#111"/>
<circle cx="286.23" cy="223.50" r="0.8" fill="#111"/>
<circle cx="274.78" cy="203.52" r="0.8" fill="#111"/>
<circle cx="276.21" cy="215.21" r="0.8" fill="#111"/>
<circle cx="282.60" cy="207.53" r="0.8" fill="#111"/>
<circle cx="273.13" cy="233.48" r="0.8" fill="#111"/>
<circle cx="272.84" cy="209.14" r="0.8" fill="#111"/>
<circle cx="278.12" cy="230.60" r="0.8" fill="#111"/>
<circle cx="274.40" cy="222.90" r="0.8" fill="#111"/>
<circle cx="278.16" cy="206.62" r="0.8" fill="#111"/>
<circle cx="276.16" cy="207.33" r="0.8" fill="#111"/>
<circle cx="281.55" cy="232.42" r="0.8" fill="#111"/>
<circle cx="281.64" cy="230.78" r="0.8" fill="#111"/>
<circle cx="275.86" cy="223.07" r="0.8" fill="#111"/>
<circle cx="282.16" cy="218.83" r="0.8" fill="#111"/>
<circle cx="279.92" cy="223.66" r="0.8" fill="#111"/>
<circle cx="274.82" cy="235.22" r="0.8" fill="#111"/>
<circle cx="286.85" cy="229.43" r="0.8" fill="#111"/>
<circle cx="276.45" cy="211.52" r="0.8" fill="#111"/>
<circle cx="275.04" cy="203.94" r="0.8" fill="#111"/>
<circle cx="274.24" cy="242.69" r="0.8" fill="#111"/>
<circle cx="282.37" cy="217.25" r="0.8" fill="#111"/>
<circle cx="285.87" cy="210.32" r="0.8" fill="#111"/>
<circle cx="284.53" cy="242.98" r="0.8" fill="#111"/>
<circle cx="278.83" cy="206.96" r="0.8" fill="#111"/>
<circle cx="276.76" cy="235.47" r="0.8" fill="#111"/>
<circle cx="272.97" cy="215.94" r="0.8" fill="#111"/>
<circle cx="282.47" cy="217.68" r="0.8" fill="#111"/>
<circle cx="281.23" cy="214.97" r="0.8" fill="#111"/>
<circle cx="278.05" cy="226.68" r="0.8" fill="#111"/>
<circle cx="282.48" cy="222.34" r="0.8" fill="#111"/>
<circle cx="279.46" cy="216.53" r="0.8" fill="#111"/>
<circle cx="286.86" cy="222.14" r="0.8" fill="#111"/>
<circle cx="283.80" cy="213.85" r="0.8" fill="#111"/>
<circle cx="276.53" cy="221.38" r="0.8" fill="#111"/>
<circle cx="286.35" cy="221.69" r="0.8" fill="#111"/>
<circle cx="273.46" cy="244.39" r="0.8" fill="#111"/>
<circle cx="280.77" cy="215.26" r="0.8" fill="#111"/>
<circle cx="278.89" cy="219.85" r="0.8" fill="#111"/>
<circle cx="276.37" cy="229.99" r="0.8" fill="#111"/>
<circle cx="273.68" cy="210.06" r="0.8" fill="#111"/>
<circle cx="284.48" cy="209.38" r="0.8" fill="#111"/>
<circle cx="272.99" cy="220.97" r="0.8" fill="#111"/>
<circle cx="281.06" cy="232.58" r="0.8" fill="#111"/>
<circle cx="286.91" cy="220.43" r="0.8" fill="#111"/>
<circle cx="274.93" cy="236.37" r="0.8" fill="#111"/>
<circle cx="275.79" cy="234.97" r="0.8" fill="#111"/>
<circle cx="281.92" cy="221.97" r="0.8" fill="#111"/>
<circle cx="280.40" cy="237.84" r="0.8" fill="#111"/>
<circle cx="282.42" cy="221.56" r="0.8" fill="#111"/>
<circle cx="285.00" cy="219.11" r="0.8" fill="#111"/>
<circle cx="275.42" cy="242.72" r="0.8" fill="#111"/>
<circle cx="277.44" cy="214.64" r="0.8" fill="#111"/>
<circle cx="277.30" cy="238.75" r="0.8" fill="#111"/>
<circle cx="273.53" cy="211.22" r="0.8" fill="#111"/>
<circle cx="286.14" cy="209.48" r="0.8" fill="#111"/>
<circle cx="284.54" cy="219.06" r="0.8" fill="#111"/>
<circle cx="283.53" cy="241.43" r="0.8" fill="#111"/>
<circle cx="272.90" cy="219.33" r="0.8" fill="#111"/>
<circle cx="285.47" cy="223.86" r="0.8" fill="#111"/>
<circle cx="283.98" cy="200.63" r="0.8" fill="#111"/>
<circle cx="279.78" cy="234.61" r="0.8" fill="#111"/>
<circle cx="283.93" cy="206.17" r="0.8" fill="#111"/>
<circle cx="279.59" cy="195.64" r="0.8" fill="#111"/>
<circle cx="276.19" cy="211.27" r="0.8" fill="#111"/>
<circle cx="274.38" cy="207.92" r="0.8" fill="#111"/>
<circle cx="276.28" cy="231.92" r="0.8" fill="#111"/>
<circle cx="273.38" cy="197.30" r="0.8" fill="#111"/>
<circle cx="277.83" cy="219.76" r="0.8" fill="#111"/>
<circle cx="284.04" cy="200.01" r="0.8" fill="#111"/>
<circle cx="283.23" cy="202.80" r="0.8" fill="#111"/>
<circle cx="285.48" cy="233.26" r="0.8" fill="#111"/>
<circle cx="283.48" cy="209.03" r="0.8" fill="#111"/>
<circle cx="276.79" cy="201.92" r="0.8" fill="#111"/>
<circle cx="281.11" cy="240.35" r="0.8" fill="#111"/>
<circle cx="279.34" cy="224.83" r="0.8" fill="#111"/>
<circle cx="284.63" cy="210.37" r="0.8" fill="#111"/>
<circle cx="280.65" cy="233.55" r="0.8" fill="#111"/>
<circle cx="276.78" cy="203.98" r="0.8" fill="#111"/>
<circle cx="282.43" cy="228.13" r="0.8" fill="#111"/>
<circle cx="287.28" cy="207.90" r="0.8" fill="#111"/>
<circle cx="276.05" cy="234.26" r="0.8" fill="#111"/>
<circle cx="286.00" cy="219.39" r="0.8" fill="#111"/>
<circle cx="273.03" cy="202.57" r="0.8" fill="#111"/>
<circle cx="276.71" cy="231.24" r="0.8" fill="#111"/>
<circle cx="276.34" cy="228.70" r="0.8" fill="#111"/>
<circle cx="283.96" cy="219.25" r="0.8" fill="#111"/>
<circle cx="286.97" cy="226.08" r="0.8" fill="#111"/>
<circle cx="283.99" cy="243.10" r="0.8" fill="#111"/>
<circle cx="277.70" cy="232.46" r="0.8" fill="#111"/>
<circle cx="286.00" cy="233.44" r="0.8" fill="#111"/>
<circle cx="277.73" cy="201.57" r="0.8" fill="#111"/>
<circle cx="276.39" cy="213.12" r="0.8" fill="#111"/>
<circle cx="286.41" cy="204.05" r="0.8" fill="#111"/>
<circle cx="282.26" cy="233.09" r="0.8" fill="#111"/>
<circle cx="283.19" cy="209.18" r="0.8" fill="#111"/>
<circle cx="282.78" cy="235.60" r="0.8" fill="#111"/>
<circle cx="287.49" cy="218.37" r="0.8" fill="#111"/>
<circle cx="279.84" cy="214.64" r="0.8" fill="#111"/>
<circle cx="285.40" cy="224.51" r="0.8" fill="#111"/>
<circle cx="283.26" cy="205.41" r="0.8" fill="#111"/>
<circle cx="285.66" cy="217.50" r="0.8" fill="#111"/>
<circle cx="279.36" cy="216.63" r="0.8" fill="#111"/>
<circle cx="283.67" cy="204.83" r="0.8" fill="#111"/>
<circle cx="281.36" cy="236.60" r="0.8" fill="#111"/>
<circle cx="277.42" cy="196.09" r="0.8" fill="#111"/>
<circle cx="296.97" cy="215.77" r="0.8" fill="#111"/>
<circle cx="294.35" cy="206.22" r="0.8" fill="#111"/>
<circle cx="294.32" cy="223.87" r="0.8" fill="#111"/>
<circle cx="303.55" cy="198.36" r="0.8" fill="#111"/>
<circle cx="295.82" cy="218.93" r="0.8" fill="#111"/>
<circle cx="297.42" cy="228.44" r="0.8" fill="#111"/>
<circle cx="298.88" cy="221.46" r="0.8" fill="#111"/>
<circle cx="293.24" cy="197.28" r="0.8" fill="#111"/>
<circle cx="296.54" cy="212.35" r="0.8" fill="#111"/>
<circle cx="296.91" cy="219.10" r="0.8" fill="#111"/>
<circle cx="302.97" cy="228.26" r="0.8" fill="#111"/>
<circle cx="298.10" cy="227.04" r="0.8" fill="#111"/>
<circle cx="297.44" cy="204.67" r="0.8" fill="#111"/>
<circle cx="306.45" cy="205.97" r="0.8" fill="#111"/>
<circle cx="300.00" cy="204.58" r="0.8" fill="#111"/>
<circle cx="304.87" cy="203.70" r="0.8" fill="#111"/>
<circle cx="301.61" cy="224.87" r="0.8" fill="#111"/>
<circle cx="293.38" cy="206.93" r="0.8" fill="#111"/>
<circle cx="298.73" cy="211.88" r="0.8" fill="#111"/>
<circle cx="299.06" cy="201.32" r="0.8" fill="#111"/>
<circle cx="303.77" cy="201.26" r="0.8" fill="#111"/>
<circle cx="297.80" cy="198.98" r="0.8" fill="#111"/>
<circle cx="302.82" cy="224.85" r="0.8" fill="#111"/>
<circle cx="300.48" cy="199.73" r="0.8" fill="#111"/>
<circle cx="295.98" cy="198.21" r="0.8" fill="#111"/>
<circle cx="305.02" cy="196.31" r="0.8" fill="#111"/>
<circle cx="294.22" cy="221.43" r="0.8" fill="#111"/>
<circle cx="304.43" cy="216.02" r="0.8" fill="#111"/>
<circle cx="295.34" cy="221.02" r="0.8" fill="#111"/>
<circle cx="292.97" cy="227.73" r="0.8" fill="#111"/>
<circle cx="295.78" cy="200.36" r="0.8" fill="#111"/>
<circle cx="303.62" cy="201.50" r="0.8" fill="#111"/>
<circle cx="306.64" cy="205.97" r="0.8" fill="#111"/>
<circle cx="293.01" cy="201.08" r="0.8" fill="#111"/>
<circle cx="299.82" cy="206.03" r="0.8" fill="#111"/>
<circle cx="319.58" cy="209.44" r="0.8" fill="#111"/>
<circle cx="314.92" cy="201.51" r="0.8" fill="#111"/>
<circle cx="321.24" cy="216.39" r="0.8" fill="#111"/>
<circle cx="314.57" cy="209.37" r="0.8" fill="#111"/>
<circle cx="323.05" cy="212.46" r="0.8" fill="#111"/>
<circle cx="321.97" cy="200.19" r="0.8" fill="#111"/>
<circle cx="323.04" cy="214.48" r="0.8" fill="#111"/>
<circle cx="321.14" cy="195.09" r="0.8" fill="#111"/>
<circle cx="317.87" cy="213.90" r="0.8" fill="#111"/>
<circle cx="318.42" cy="215.63" r="0.8" fill="#111"/>
<circle cx="318.34" cy="204.52" r="0.8" fill="#111"/>
<path d="M280.30,183.50 L280.30,182.00 L319.60,182.00 L319.60,183.50" fill="none" stroke="#222" stroke-width="1.0"/>
<text x="299.95" y="183.00" font-size="7.0" text-anchor="middle" font-weight="bold" fill="#222" >***</text>
<path d="M299.95,175.70 L299.95,174.20 L319.60,174.20 L319.60,175.70" fill="none" stroke="#222" stroke-width="1.0"/>
<text x="309.78" y="173.00" font-size="6.4" text-anchor="middle" font-weight="normal" fill="#333" stroke="#333" stroke-width="0.2" >ns</text>
<text x="391.30" y="160.10" font-size="7.6" text-anchor="middle" font-weight="normal" fill="#231f20" stroke="#231f20" stroke-width="0.2" >IgG, mg/dL</text>
<line x1="359.5" y1="171.2" x2="359.5" y2="255.2" stroke="#333" stroke-width="1.0"/>
<line x1="359.1" y1="254.7" x2="422.2" y2="254.7" stroke="#333" stroke-width="1.1"/>
<line x1="357.5" y1="253.20" x2="359.5" y2="253.20" stroke="#333" stroke-width="0.8"/>
<text x="354.50" y="255.40" font-size="6.5" text-anchor="end" font-weight="normal" fill="#333" stroke="#333" stroke-width="0.2" >0</text>
<line x1="357.5" y1="231.37" x2="359.5" y2="231.37" stroke="#333" stroke-width="0.8"/>
<text x="354.50" y="233.57" font-size="6.5" text-anchor="end" font-weight="normal" fill="#333" stroke="#333" stroke-width="0.2" >2500</text>
<line x1="357.5" y1="209.53" x2="359.5" y2="209.53" stroke="#333" stroke-width="0.8"/>
<text x="354.50" y="211.73" font-size="6.5" text-anchor="end" font-weight="normal" fill="#333" stroke="#333" stroke-width="0.2" >5000</text>
<line x1="357.5" y1="187.70" x2="359.5" y2="187.70" stroke="#333" stroke-width="0.8"/>
<text x="354.50" y="189.90" font-size="6.5" text-anchor="end" font-weight="normal" fill="#333" stroke="#333" stroke-width="0.2" >7500</text>
<line x1="371.20" y1="254.7" x2="371.20" y2="256.7" stroke="#333" stroke-width="0.8"/>
<text transform="translate(374.60 264.60) rotate(-45)" font-size="6.5" text-anchor="end" fill="#333" stroke="#333" stroke-width="0.2">iMCD</text>
<line x1="390.85" y1="254.7" x2="390.85" y2="256.7" stroke="#333" stroke-width="0.8"/>
<text transform="translate(394.25 264.60) rotate(-45)" font-size="6.5" text-anchor="end" fill="#333" stroke="#333" stroke-width="0.2">UCD</text>
<line x1="410.50" y1="254.7" x2="410.50" y2="256.7" stroke="#333" stroke-width="0.8"/>
<text transform="translate(413.90 264.60) rotate(-45)" font-size="6.5" text-anchor="end" fill="#333" stroke="#333" stroke-width="0.2">OligoCD</text>
<path d="M371.20,251.45 L371.50,251.31 L371.80,251.16 L372.10,251.02 L372.40,250.87 L372.70,250.73 L373.00,250.58 L373.17,250.00 L373.33,249.42 L373.50,248.83 L373.67,248.25 L373.83,247.67 L374.00,247.09 L373.97,246.36 L373.93,245.63 L373.90,244.90 L373.87,244.18 L373.83,243.45 L373.80,242.72 L373.57,241.56 L373.33,240.39 L373.10,239.23 L372.87,238.06 L372.63,236.90 L372.40,235.73 L372.25,234.72 L372.10,233.70 L371.95,232.68 L371.80,231.66 L371.65,230.64 L371.50,229.62 L371.45,228.89 L371.40,228.17 L371.35,227.44 L371.30,226.71 L371.25,225.98 L371.20,225.25 L371.20,219.72 L371.20,214.19 L371.20,208.66 L371.20,203.13 L371.20,197.60 L371.20,192.07 L371.20,192.07 L371.20,197.60 L371.20,203.13 L371.20,208.66 L371.20,214.19 L371.20,219.72 L371.20,225.25 L371.15,225.98 L371.10,226.71 L371.05,227.44 L371.00,228.17 L370.95,228.89 L370.90,229.62 L370.75,230.64 L370.60,231.66 L370.45,232.68 L370.30,233.70 L370.15,234.72 L370.00,235.73 L369.77,236.90 L369.53,238.06 L369.30,239.23 L369.07,240.39 L368.83,241.56 L368.60,242.72 L368.57,243.45 L368.53,244.18 L368.50,244.90 L368.47,245.63 L368.43,246.36 L368.40,247.09 L368.57,247.67 L368.73,248.25 L368.90,248.83 L369.07,249.42 L369.23,250.00 L369.40,250.58 L369.70,250.73 L370.00,250.87 L370.30,251.02 L370.60,251.16 L370.90,251.31 L371.20,251.45 Z" fill="#3aae4a" stroke="#2a2a2a" stroke-width="0.55"/>
<line x1="371.20" y1="228.75" x2="371.20" y2="192.07" stroke="#333" stroke-width="0.8"/>
<path d="M390.85,248.83 L391.52,248.80 L392.18,248.78 L392.85,248.75 L393.52,248.72 L394.18,248.69 L394.85,248.66 L395.22,248.40 L395.58,248.13 L395.95,247.87 L396.32,247.61 L396.68,247.35 L397.05,247.09 L396.68,246.65 L396.32,246.21 L395.95,245.78 L395.58,245.34 L395.22,244.90 L394.85,244.47 L394.52,243.88 L394.18,243.30 L393.85,242.72 L393.52,242.14 L393.18,241.56 L392.85,240.97 L392.60,240.25 L392.35,239.52 L392.10,238.79 L391.85,238.06 L391.60,237.34 L391.35,236.61 L391.27,236.53 L391.18,236.46 L391.10,236.39 L391.02,236.32 L390.93,236.24 L390.85,236.17 L390.85,236.17 L390.77,236.24 L390.68,236.32 L390.60,236.39 L390.52,236.46 L390.43,236.53 L390.35,236.61 L390.10,237.34 L389.85,238.06 L389.60,238.79 L389.35,239.52 L389.10,240.25 L388.85,240.97 L388.52,241.56 L388.18,242.14 L387.85,242.72 L387.52,243.30 L387.18,243.88 L386.85,244.47 L386.48,244.90 L386.12,245.34 L385.75,245.78 L385.38,246.21 L385.02,246.65 L384.65,247.09 L385.02,247.35 L385.38,247.61 L385.75,247.87 L386.12,248.13 L386.48,248.40 L386.85,248.66 L387.52,248.69 L388.18,248.72 L388.85,248.75 L389.52,248.78 L390.18,248.80 L390.85,248.83 Z" fill="#f7941d" stroke="#2a2a2a" stroke-width="0.55"/>
<path d="M410.50,247.52 L411.92,247.51 L413.33,247.49 L414.75,247.48 L416.17,247.47 L417.58,247.45 L419.00,247.44 L419.08,247.09 L419.17,246.74 L419.25,246.39 L419.33,246.04 L419.42,245.69 L419.50,245.34 L419.42,244.98 L419.33,244.61 L419.25,244.25 L419.17,243.88 L419.08,243.52 L419.00,243.16 L417.58,243.14 L416.17,243.13 L414.75,243.11 L413.33,243.10 L411.92,243.08 L410.50,243.07 L410.50,243.07 L409.08,243.08 L407.67,243.10 L406.25,243.11 L404.83,243.13 L403.42,243.14 L402.00,243.16 L401.92,243.52 L401.83,243.88 L401.75,244.25 L401.67,244.61 L401.58,244.98 L401.50,245.34 L401.58,245.69 L401.67,246.04 L401.75,246.39 L401.83,246.74 L401.92,247.09 L402.00,247.44 L403.42,247.45 L404.83,247.47 L406.25,247.48 L407.67,247.49 L409.08,247.51 L410.50,247.52 Z" fill="#8e86cf" stroke="#2a2a2a" stroke-width="0.55"/>
<circle cx="371.05" cy="235.16" r="0.8" fill="#111"/>
<circle cx="378.32" cy="249.71" r="0.8" fill="#111"/>
<circle cx="364.27" cy="235.25" r="0.8" fill="#111"/>
<circle cx="371.85" cy="250.94" r="0.8" fill="#111"/>
<circle cx="366.11" cy="247.68" r="0.8" fill="#111"/>
<circle cx="375.43" cy="246.81" r="0.8" fill="#111"/>
<circle cx="377.81" cy="234.61" r="0.8" fill="#111"/>
<circle cx="371.49" cy="243.20" r="0.8" fill="#111"/>
<circle cx="365.22" cy="245.05" r="0.8" fill="#111"/>
<circle cx="372.32" cy="235.48" r="0.8" fill="#111"/>
<circle cx="371.82" cy="247.26" r="0.8" fill="#111"/>
<circle cx="374.46" cy="243.81" r="0.8" fill="#111"/>
<circle cx="371.38" cy="242.74" r="0.8" fill="#111"/>
<circle cx="373.29" cy="238.25" r="0.8" fill="#111"/>
<circle cx="376.13" cy="238.28" r="0.8" fill="#111"/>
<circle cx="371.53" cy="240.43" r="0.8" fill="#111"/>
<circle cx="369.86" cy="245.52" r="0.8" fill="#111"/>
<circle cx="377.92" cy="245.85" r="0.8" fill="#111"/>
<circle cx="366.85" cy="248.44" r="0.8" fill="#111"/>
<circle cx="373.97" cy="236.46" r="0.8" fill="#111"/>
<circle cx="369.59" cy="240.12" r="0.8" fill="#111"/>
<circle cx="375.14" cy="238.50" r="0.8" fill="#111"/>
<circle cx="365.54" cy="248.23" r="0.8" fill="#111"/>
<circle cx="378.47" cy="244.15" r="0.8" fill="#111"/>
<circle cx="369.03" cy="237.87" r="0.8" fill="#111"/>
<circle cx="364.55" cy="241.79" r="0.8" fill="#111"/>
<circle cx="367.82" cy="248.91" r="0.8" fill="#111"/>
<circle cx="369.70" cy="243.80" r="0.8" fill="#111"/>
<circle cx="363.90" cy="235.42" r="0.8" fill="#111"/>
<circle cx="369.98" cy="247.19" r="0.8" fill="#111"/>
<circle cx="370.01" cy="247.90" r="0.8" fill="#111"/>
<circle cx="374.17" cy="246.23" r="0.8" fill="#111"/>
<circle cx="368.98" cy="239.29" r="0.8" fill="#111"/>
<circle cx="367.68" cy="236.45" r="0.8" fill="#111"/>
<circle cx="367.07" cy="248.46" r="0.8" fill="#111"/>
<circle cx="374.82" cy="248.43" r="0.8" fill="#111"/>
<circle cx="377.80" cy="247.05" r="0.8" fill="#111"/>
<circle cx="371.61" cy="245.85" r="0.8" fill="#111"/>
<circle cx="366.98" cy="242.89" r="0.8" fill="#111"/>
<circle cx="375.72" cy="248.36" r="0.8" fill="#111"/>
<circle cx="369.58" cy="245.83" r="0.8" fill="#111"/>
<circle cx="366.88" cy="247.93" r="0.8" fill="#111"/>
<circle cx="365.64" cy="230.88" r="0.8" fill="#111"/>
<circle cx="375.35" cy="238.77" r="0.8" fill="#111"/>
<circle cx="375.84" cy="249.40" r="0.8" fill="#111"/>
<circle cx="373.21" cy="231.52" r="0.8" fill="#111"/>
<circle cx="370.74" cy="249.40" r="0.8" fill="#111"/>
<circle cx="372.13" cy="244.98" r="0.8" fill="#111"/>
<circle cx="367.09" cy="230.44" r="0.8" fill="#111"/>
<circle cx="378.16" cy="237.43" r="0.8" fill="#111"/>
<circle cx="369.00" cy="238.68" r="0.8" fill="#111"/>
<circle cx="373.28" cy="244.21" r="0.8" fill="#111"/>
<circle cx="375.98" cy="247.83" r="0.8" fill="#111"/>
<circle cx="375.94" cy="240.60" r="0.8" fill="#111"/>
<circle cx="370.72" cy="249.29" r="0.8" fill="#111"/>
<circle cx="368.12" cy="247.67" r="0.8" fill="#111"/>
<circle cx="371.92" cy="244.91" r="0.8" fill="#111"/>
<circle cx="365.58" cy="250.77" r="0.8" fill="#111"/>
<circle cx="376.21" cy="244.75" r="0.8" fill="#111"/>
<circle cx="369.02" cy="237.51" r="0.8" fill="#111"/>
<circle cx="376.46" cy="239.48" r="0.8" fill="#111"/>
<circle cx="367.71" cy="243.22" r="0.8" fill="#111"/>
<circle cx="369.34" cy="240.72" r="0.8" fill="#111"/>
<circle cx="367.50" cy="243.78" r="0.8" fill="#111"/>
<circle cx="370.09" cy="248.65" r="0.8" fill="#111"/>
<circle cx="366.49" cy="241.29" r="0.8" fill="#111"/>
<circle cx="363.74" cy="244.67" r="0.8" fill="#111"/>
<circle cx="374.53" cy="238.52" r="0.8" fill="#111"/>
<circle cx="367.92" cy="234.27" r="0.8" fill="#111"/>
<circle cx="367.37" cy="244.28" r="0.8" fill="#111"/>
<circle cx="368.23" cy="241.90" r="0.8" fill="#111"/>
<circle cx="370.89" cy="238.36" r="0.8" fill="#111"/>
<circle cx="370.13" cy="244.42" r="0.8" fill="#111"/>
<circle cx="373.26" cy="247.34" r="0.8" fill="#111"/>
<circle cx="373.59" cy="238.90" r="0.8" fill="#111"/>
<circle cx="369.14" cy="235.68" r="0.8" fill="#111"/>
<circle cx="377.63" cy="237.85" r="0.8" fill="#111"/>
<circle cx="376.52" cy="239.35" r="0.8" fill="#111"/>
<circle cx="364.56" cy="236.27" r="0.8" fill="#111"/>
<circle cx="376.12" cy="239.76" r="0.8" fill="#111"/>
<circle cx="377.29" cy="240.53" r="0.8" fill="#111"/>
<circle cx="375.46" cy="243.92" r="0.8" fill="#111"/>
<circle cx="365.81" cy="246.06" r="0.8" fill="#111"/>
<circle cx="376.17" cy="240.80" r="0.8" fill="#111"/>
<circle cx="373.20" cy="249.48" r="0.8" fill="#111"/>
<circle cx="363.92" cy="244.44" r="0.8" fill="#111"/>
<circle cx="363.87" cy="237.69" r="0.8" fill="#111"/>
<circle cx="377.98" cy="239.08" r="0.8" fill="#111"/>
<circle cx="373.54" cy="240.77" r="0.8" fill="#111"/>
<circle cx="367.45" cy="247.01" r="0.8" fill="#111"/>
<circle cx="365.22" cy="244.38" r="0.8" fill="#111"/>
<circle cx="365.84" cy="243.90" r="0.8" fill="#111"/>
<circle cx="367.20" cy="240.93" r="0.8" fill="#111"/>
<circle cx="375.34" cy="244.60" r="0.8" fill="#111"/>
<circle cx="368.90" cy="239.85" r="0.8" fill="#111"/>
<circle cx="365.99" cy="233.15" r="0.8" fill="#111"/>
<circle cx="377.26" cy="248.02" r="0.8" fill="#111"/>
<circle cx="375.58" cy="240.27" r="0.8" fill="#111"/>
<circle cx="366.22" cy="237.77" r="0.8" fill="#111"/>
<circle cx="377.07" cy="244.91" r="0.8" fill="#111"/>
<circle cx="365.20" cy="192.07" r="0.8" fill="#111"/>
<circle cx="366.20" cy="194.69" r="0.8" fill="#111"/>
<circle cx="374.20" cy="198.18" r="0.8" fill="#111"/>
<circle cx="375.20" cy="206.92" r="0.8" fill="#111"/>
<circle cx="368.20" cy="213.90" r="0.8" fill="#111"/>
<circle cx="376.20" cy="226.13" r="0.8" fill="#111"/>
<circle cx="367.20" cy="227.87" r="0.8" fill="#111"/>
<circle cx="374.20" cy="225.25" r="0.8" fill="#111"/>
<circle cx="377.20" cy="229.62" r="0.8" fill="#111"/>
<circle cx="391.36" cy="244.05" r="0.8" fill="#111"/>
<circle cx="395.57" cy="241.87" r="0.8" fill="#111"/>
<circle cx="384.44" cy="243.29" r="0.8" fill="#111"/>
<circle cx="395.28" cy="239.73" r="0.8" fill="#111"/>
<circle cx="390.43" cy="241.79" r="0.8" fill="#111"/>
<circle cx="391.66" cy="241.15" r="0.8" fill="#111"/>
<circle cx="393.00" cy="247.27" r="0.8" fill="#111"/>
<circle cx="395.28" cy="242.99" r="0.8" fill="#111"/>
<circle cx="389.22" cy="244.80" r="0.8" fill="#111"/>
<circle cx="389.79" cy="242.37" r="0.8" fill="#111"/>
<circle cx="396.84" cy="245.48" r="0.8" fill="#111"/>
<circle cx="385.33" cy="240.07" r="0.8" fill="#111"/>
<circle cx="392.63" cy="244.62" r="0.8" fill="#111"/>
<circle cx="392.62" cy="246.77" r="0.8" fill="#111"/>
<circle cx="384.72" cy="246.99" r="0.8" fill="#111"/>
<circle cx="392.28" cy="247.70" r="0.8" fill="#111"/>
<circle cx="393.22" cy="245.08" r="0.8" fill="#111"/>
<circle cx="396.46" cy="248.29" r="0.8" fill="#111"/>
<circle cx="388.65" cy="245.27" r="0.8" fill="#111"/>
<circle cx="397.11" cy="247.66" r="0.8" fill="#111"/>
<circle cx="390.99" cy="245.09" r="0.8" fill="#111"/>
<circle cx="390.65" cy="245.04" r="0.8" fill="#111"/>
<circle cx="408.89" cy="243.56" r="0.8" fill="#111"/>
<circle cx="410.19" cy="247.33" r="0.8" fill="#111"/>
<circle cx="410.81" cy="244.34" r="0.8" fill="#111"/>
<circle cx="413.75" cy="244.75" r="0.8" fill="#111"/>
<circle cx="407.03" cy="246.00" r="0.8" fill="#111"/>
<circle cx="409.72" cy="243.72" r="0.8" fill="#111"/>
<path d="M371.20,183.50 L371.20,182.00 L410.50,182.00 L410.50,183.50" fill="none" stroke="#222" stroke-width="1.0"/>
<text x="390.85" y="180.80" font-size="6.4" text-anchor="middle" font-weight="normal" fill="#333" stroke="#333" stroke-width="0.2" >ns</text>
<path d="M390.85,175.70 L390.85,174.20 L410.50,174.20 L410.50,175.70" fill="none" stroke="#222" stroke-width="1.0"/>
<text x="400.68" y="173.00" font-size="6.4" text-anchor="middle" font-weight="normal" fill="#333" stroke="#333" stroke-width="0.2" >ns</text>
<text x="482.30" y="160.10" font-size="7.6" text-anchor="middle" font-weight="normal" fill="#231f20" stroke="#231f20" stroke-width="0.2" >Platelets, k/µL</text>
<line x1="450.5" y1="171.2" x2="450.5" y2="255.2" stroke="#333" stroke-width="1.0"/>
<line x1="450.1" y1="254.7" x2="513.2" y2="254.7" stroke="#333" stroke-width="1.1"/>
<line x1="448.5" y1="252.10" x2="450.5" y2="252.10" stroke="#333" stroke-width="0.8"/>
<text x="445.50" y="254.30" font-size="6.5" text-anchor="end" font-weight="normal" fill="#333" stroke="#333" stroke-width="0.2" >0</text>
<line x1="448.5" y1="232.30" x2="450.5" y2="232.30" stroke="#333" stroke-width="0.8"/>
<text x="445.50" y="234.50" font-size="6.5" text-anchor="end" font-weight="normal" fill="#333" stroke="#333" stroke-width="0.2" >300</text>
<line x1="448.5" y1="212.50" x2="450.5" y2="212.50" stroke="#333" stroke-width="0.8"/>
<text x="445.50" y="214.70" font-size="6.5" text-anchor="end" font-weight="normal" fill="#333" stroke="#333" stroke-width="0.2" >600</text>
<line x1="448.5" y1="192.70" x2="450.5" y2="192.70" stroke="#333" stroke-width="0.8"/>
<text x="445.50" y="194.90" font-size="6.5" text-anchor="end" font-weight="normal" fill="#333" stroke="#333" stroke-width="0.2" >900</text>
<line x1="448.5" y1="172.90" x2="450.5" y2="172.90" stroke="#333" stroke-width="0.8"/>
<text x="445.50" y="175.10" font-size="6.5" text-anchor="end" font-weight="normal" fill="#333" stroke="#333" stroke-width="0.2" >1200</text>
<line x1="462.20" y1="254.7" x2="462.20" y2="256.7" stroke="#333" stroke-width="0.8"/>
<text transform="translate(465.60 264.60) rotate(-45)" font-size="6.5" text-anchor="end" fill="#333" stroke="#333" stroke-width="0.2">iMCD</text>
<line x1="481.85" y1="254.7" x2="481.85" y2="256.7" stroke="#333" stroke-width="0.8"/>
<text transform="translate(485.25 264.60) rotate(-45)" font-size="6.5" text-anchor="end" fill="#333" stroke="#333" stroke-width="0.2">UCD</text>
<line x1="501.50" y1="254.7" x2="501.50" y2="256.7" stroke="#333" stroke-width="0.8"/>
<text transform="translate(504.90 264.60) rotate(-45)" font-size="6.5" text-anchor="end" fill="#333" stroke="#333" stroke-width="0.2">OligoCD</text>
<path d="M462.20,250.78 L462.57,250.56 L462.93,250.34 L463.30,250.12 L463.67,249.90 L464.03,249.68 L464.40,249.46 L464.57,248.80 L464.73,248.14 L464.90,247.48 L465.07,246.82 L465.23,246.16 L465.40,245.50 L465.33,244.40 L465.27,243.30 L465.20,242.20 L465.13,241.10 L465.07,240.00 L465.00,238.90 L464.87,237.80 L464.73,236.70 L464.60,235.60 L464.47,234.50 L464.33,233.40 L464.20,232.30 L464.08,231.20 L463.97,230.10 L463.85,229.00 L463.73,227.90 L463.62,226.80 L463.50,225.70 L463.42,224.60 L463.33,223.50 L463.25,222.40 L463.17,221.30 L463.08,220.20 L463.00,219.10 L462.92,218.00 L462.83,216.90 L462.75,215.80 L462.67,214.70 L462.58,213.60 L462.50,212.50 L462.45,211.62 L462.40,210.74 L462.35,209.86 L462.30,208.98 L462.25,208.10 L462.20,207.22 L462.20,204.63 L462.20,202.05 L462.20,199.46 L462.20,196.88 L462.20,194.29 L462.20,191.71 L462.20,191.71 L462.20,194.29 L462.20,196.88 L462.20,199.46 L462.20,202.05 L462.20,204.63 L462.20,207.22 L462.15,208.10 L462.10,208.98 L462.05,209.86 L462.00,210.74 L461.95,211.62 L461.90,212.50 L461.82,213.60 L461.73,214.70 L461.65,215.80 L461.57,216.90 L461.48,218.00 L461.40,219.10 L461.32,220.20 L461.23,221.30 L461.15,222.40 L461.07,223.50 L460.98,224.60 L460.90,225.70 L460.78,226.80 L460.67,227.90 L460.55,229.00 L460.43,230.10 L460.32,231.20 L460.20,232.30 L460.07,233.40 L459.93,234.50 L459.80,235.60 L459.67,236.70 L459.53,237.80 L459.40,238.90 L459.33,240.00 L459.27,241.10 L459.20,242.20 L459.13,243.30 L459.07,244.40 L459.00,245.50 L459.17,246.16 L459.33,246.82 L459.50,247.48 L459.67,248.14 L459.83,248.80 L460.00,249.46 L460.37,249.68 L460.73,249.90 L461.10,250.12 L461.47,250.34 L461.83,250.56 L462.20,250.78 Z" fill="#3aae4a" stroke="#2a2a2a" stroke-width="0.55"/>
<line x1="462.20" y1="215.14" x2="462.20" y2="191.64" stroke="#333" stroke-width="0.8"/>
<path d="M481.85,243.52 L482.18,243.30 L482.52,243.08 L482.85,242.86 L483.18,242.64 L483.52,242.42 L483.85,242.20 L484.43,241.65 L485.02,241.10 L485.60,240.55 L486.18,240.00 L486.77,239.45 L487.35,238.90 L487.80,238.35 L488.25,237.80 L488.70,237.25 L489.15,236.70 L489.60,236.15 L490.05,235.60 L489.85,235.16 L489.65,234.72 L489.45,234.28 L489.25,233.84 L489.05,233.40 L488.85,232.96 L488.35,232.52 L487.85,232.08 L487.35,231.64 L486.85,231.20 L486.35,230.76 L485.85,230.32 L485.43,229.77 L485.02,229.22 L484.60,228.67 L484.18,228.12 L483.77,227.57 L483.35,227.02 L483.18,226.58 L483.02,226.14 L482.85,225.70 L482.68,225.26 L482.52,224.82 L482.35,224.38 L482.27,224.05 L482.18,223.72 L482.10,223.39 L482.02,223.06 L481.93,222.73 L481.85,222.40 L481.85,221.72 L481.85,221.04 L481.85,220.35 L481.85,219.67 L481.85,218.99 L481.85,218.31 L481.85,218.31 L481.85,218.99 L481.85,219.67 L481.85,220.35 L481.85,221.04 L481.85,221.72 L481.85,222.40 L481.77,222.73 L481.68,223.06 L481.60,223.39 L481.52,223.72 L481.43,224.05 L481.35,224.38 L481.18,224.82 L481.02,225.26 L480.85,225.70 L480.68,226.14 L480.52,226.58 L480.35,227.02 L479.93,227.57 L479.52,228.12 L479.10,228.67 L478.68,229.22 L478.27,229.77 L477.85,230.32 L477.35,230.76 L476.85,231.20 L476.35,231.64 L475.85,232.08 L475.35,232.52 L474.85,232.96 L474.65,233.40 L474.45,233.84 L474.25,234.28 L474.05,234.72 L473.85,235.16 L473.65,235.60 L474.10,236.15 L474.55,236.70 L475.00,237.25 L475.45,237.80 L475.90,238.35 L476.35,238.90 L476.93,239.45 L477.52,240.00 L478.10,240.55 L478.68,241.10 L479.27,241.65 L479.85,242.20 L480.18,242.42 L480.52,242.64 L480.85,242.86 L481.18,243.08 L481.52,243.30 L481.85,243.52 Z" fill="#f7941d" stroke="#2a2a2a" stroke-width="0.55"/>
<line x1="481.85" y1="224.38" x2="481.85" y2="218.31" stroke="#333" stroke-width="0.8"/>
<path d="M501.50,243.52 L501.97,243.50 L502.43,243.48 L502.90,243.45 L503.37,243.43 L503.83,243.41 L504.30,243.39 L504.58,243.08 L504.87,242.77 L505.15,242.46 L505.43,242.16 L505.72,241.85 L506.00,241.54 L506.33,241.10 L506.67,240.66 L507.00,240.22 L507.33,239.78 L507.67,239.34 L508.00,238.90 L508.25,238.35 L508.50,237.80 L508.75,237.25 L509.00,236.70 L509.25,236.15 L509.50,235.60 L509.60,235.05 L509.70,234.50 L509.80,233.95 L509.90,233.40 L510.00,232.85 L510.10,232.30 L510.10,232.10 L510.10,231.90 L510.10,231.71 L510.10,231.51 L510.10,231.31 L510.10,231.11 L508.67,231.09 L507.23,231.07 L505.80,231.05 L504.37,231.02 L502.93,231.00 L501.50,230.98 L501.50,230.98 L500.07,231.00 L498.63,231.02 L497.20,231.05 L495.77,231.07 L494.33,231.09 L492.90,231.11 L492.90,231.31 L492.90,231.51 L492.90,231.71 L492.90,231.90 L492.90,232.10 L492.90,232.30 L493.00,232.85 L493.10,233.40 L493.20,233.95 L493.30,234.50 L493.40,235.05 L493.50,235.60 L493.75,236.15 L494.00,236.70 L494.25,237.25 L494.50,237.80 L494.75,238.35 L495.00,238.90 L495.33,239.34 L495.67,239.78 L496.00,240.22 L496.33,240.66 L496.67,241.10 L497.00,241.54 L497.28,241.85 L497.57,242.16 L497.85,242.46 L498.13,242.77 L498.42,243.08 L498.70,243.39 L499.17,243.41 L499.63,243.43 L500.10,243.45 L500.57,243.48 L501.03,243.50 L501.50,243.52 Z" fill="#8e86cf" stroke="#2a2a2a" stroke-width="0.55"/>
<circle cx="455.17" cy="238.55" r="0.8" fill="#111"/>
<circle cx="469.78" cy="234.78" r="0.8" fill="#111"/>
<circle cx="465.45" cy="225.25" r="0.8" fill="#111"/>
<circle cx="467.44" cy="242.10" r="0.8" fill="#111"/>
<circle cx="459.51" cy="225.19" r="0.8" fill="#111"/>
<circle cx="463.89" cy="239.06" r="0.8" fill="#111"/>
<circle cx="469.84" cy="236.32" r="0.8" fill="#111"/>
<circle cx="467.50" cy="242.68" r="0.8" fill="#111"/>
<circle cx="463.82" cy="236.25" r="0.8" fill="#111"/>
<circle cx="459.14" cy="216.22" r="0.8" fill="#111"/>
<circle cx="461.06" cy="231.34" r="0.8" fill="#111"/>
<circle cx="468.41" cy="226.64" r="0.8" fill="#111"/>
<circle cx="460.23" cy="241.06" r="0.8" fill="#111"/>
<circle cx="465.16" cy="241.43" r="0.8" fill="#111"/>
<circle cx="463.83" cy="241.92" r="0.8" fill="#111"/>
<circle cx="468.54" cy="233.67" r="0.8" fill="#111"/>
<circle cx="467.12" cy="232.02" r="0.8" fill="#111"/>
<circle cx="458.73" cy="226.90" r="0.8" fill="#111"/>
<circle cx="454.23" cy="249.32" r="0.8" fill="#111"/>
<circle cx="458.41" cy="229.01" r="0.8" fill="#111"/>
<circle cx="460.96" cy="221.66" r="0.8" fill="#111"/>
<circle cx="463.59" cy="235.08" r="0.8" fill="#111"/>
<circle cx="467.26" cy="248.96" r="0.8" fill="#111"/>
<circle cx="468.40" cy="241.89" r="0.8" fill="#111"/>
<circle cx="454.88" cy="250.55" r="0.8" fill="#111"/>
<circle cx="467.53" cy="244.92" r="0.8" fill="#111"/>
<circle cx="467.19" cy="219.48" r="0.8" fill="#111"/>
<circle cx="468.08" cy="232.91" r="0.8" fill="#111"/>
<circle cx="463.35" cy="231.22" r="0.8" fill="#111"/>
<circle cx="458.58" cy="226.74" r="0.8" fill="#111"/>
<circle cx="467.82" cy="220.19" r="0.8" fill="#111"/>
<circle cx="467.11" cy="232.81" r="0.8" fill="#111"/>
<circle cx="465.15" cy="232.64" r="0.8" fill="#111"/>
<circle cx="468.82" cy="232.29" r="0.8" fill="#111"/>
<circle cx="459.75" cy="229.91" r="0.8" fill="#111"/>
<circle cx="455.56" cy="233.33" r="0.8" fill="#111"/>
<circle cx="463.06" cy="230.43" r="0.8" fill="#111"/>
<circle cx="466.96" cy="244.30" r="0.8" fill="#111"/>
<circle cx="457.41" cy="230.91" r="0.8" fill="#111"/>
<circle cx="466.20" cy="237.58" r="0.8" fill="#111"/>
<circle cx="469.11" cy="227.64" r="0.8" fill="#111"/>
<circle cx="457.94" cy="247.34" r="0.8" fill="#111"/>
<circle cx="463.91" cy="245.15" r="0.8" fill="#111"/>
<circle cx="465.04" cy="249.43" r="0.8" fill="#111"/>
<circle cx="461.65" cy="227.23" r="0.8" fill="#111"/>
<circle cx="457.51" cy="219.93" r="0.8" fill="#111"/>
<circle cx="458.28" cy="231.30" r="0.8" fill="#111"/>
<circle cx="466.22" cy="240.02" r="0.8" fill="#111"/>
<circle cx="466.87" cy="225.50" r="0.8" fill="#111"/>
<circle cx="461.56" cy="226.82" r="0.8" fill="#111"/>
<circle cx="455.60" cy="234.51" r="0.8" fill="#111"/>
<circle cx="467.11" cy="243.05" r="0.8" fill="#111"/>
<circle cx="466.55" cy="241.85" r="0.8" fill="#111"/>
<circle cx="457.93" cy="238.57" r="0.8" fill="#111"/>
<circle cx="463.47" cy="241.40" r="0.8" fill="#111"/>
<circle cx="468.55" cy="238.32" r="0.8" fill="#111"/>
<circle cx="468.36" cy="231.78" r="0.8" fill="#111"/>
<circle cx="462.55" cy="218.73" r="0.8" fill="#111"/>
<circle cx="461.83" cy="248.79" r="0.8" fill="#111"/>
<circle cx="463.63" cy="234.32" r="0.8" fill="#111"/>
<circle cx="457.23" cy="249.34" r="0.8" fill="#111"/>
<circle cx="457.28" cy="246.86" r="0.8" fill="#111"/>
<circle cx="457.09" cy="226.01" r="0.8" fill="#111"/>
<circle cx="465.42" cy="234.05" r="0.8" fill="#111"/>
<circle cx="460.01" cy="219.65" r="0.8" fill="#111"/>
<circle cx="463.23" cy="237.89" r="0.8" fill="#111"/>
<circle cx="460.64" cy="250.26" r="0.8" fill="#111"/>
<circle cx="462.48" cy="239.52" r="0.8" fill="#111"/>
<circle cx="456.58" cy="233.48" r="0.8" fill="#111"/>
<circle cx="454.91" cy="218.49" r="0.8" fill="#111"/>
<circle cx="470.15" cy="215.87" r="0.8" fill="#111"/>
<circle cx="460.18" cy="237.10" r="0.8" fill="#111"/>
<circle cx="455.90" cy="238.82" r="0.8" fill="#111"/>
<circle cx="464.32" cy="247.33" r="0.8" fill="#111"/>
<circle cx="466.80" cy="231.68" r="0.8" fill="#111"/>
<circle cx="456.70" cy="244.31" r="0.8" fill="#111"/>
<circle cx="463.76" cy="245.96" r="0.8" fill="#111"/>
<circle cx="459.72" cy="250.21" r="0.8" fill="#111"/>
<circle cx="462.51" cy="250.61" r="0.8" fill="#111"/>
<circle cx="454.53" cy="230.34" r="0.8" fill="#111"/>
<circle cx="454.74" cy="246.79" r="0.8" fill="#111"/>
<circle cx="470.05" cy="216.75" r="0.8" fill="#111"/>
<circle cx="468.06" cy="247.71" r="0.8" fill="#111"/>
<circle cx="461.98" cy="222.64" r="0.8" fill="#111"/>
<circle cx="463.27" cy="246.59" r="0.8" fill="#111"/>
<circle cx="458.39" cy="250.13" r="0.8" fill="#111"/>
<circle cx="466.67" cy="229.12" r="0.8" fill="#111"/>
<circle cx="461.02" cy="243.48" r="0.8" fill="#111"/>
<circle cx="469.34" cy="228.63" r="0.8" fill="#111"/>
<circle cx="466.48" cy="244.99" r="0.8" fill="#111"/>
<circle cx="467.30" cy="248.95" r="0.8" fill="#111"/>
<circle cx="469.62" cy="227.25" r="0.8" fill="#111"/>
<circle cx="458.26" cy="229.32" r="0.8" fill="#111"/>
<circle cx="454.81" cy="223.50" r="0.8" fill="#111"/>
<circle cx="457.42" cy="228.77" r="0.8" fill="#111"/>
<circle cx="457.09" cy="247.81" r="0.8" fill="#111"/>
<circle cx="455.54" cy="232.23" r="0.8" fill="#111"/>
<circle cx="455.02" cy="229.47" r="0.8" fill="#111"/>
<circle cx="463.12" cy="237.50" r="0.8" fill="#111"/>
<circle cx="468.13" cy="218.82" r="0.8" fill="#111"/>
<circle cx="461.53" cy="243.16" r="0.8" fill="#111"/>
<circle cx="469.36" cy="216.87" r="0.8" fill="#111"/>
<circle cx="468.76" cy="229.19" r="0.8" fill="#111"/>
<circle cx="455.23" cy="250.36" r="0.8" fill="#111"/>
<circle cx="463.77" cy="250.24" r="0.8" fill="#111"/>
<circle cx="460.56" cy="231.47" r="0.8" fill="#111"/>
<circle cx="456.12" cy="225.77" r="0.8" fill="#111"/>
<circle cx="469.55" cy="247.94" r="0.8" fill="#111"/>
<circle cx="458.32" cy="241.60" r="0.8" fill="#111"/>
<circle cx="463.23" cy="228.78" r="0.8" fill="#111"/>
<circle cx="464.45" cy="245.57" r="0.8" fill="#111"/>
<circle cx="469.50" cy="223.16" r="0.8" fill="#111"/>
<circle cx="464.92" cy="236.80" r="0.8" fill="#111"/>
<circle cx="460.49" cy="248.60" r="0.8" fill="#111"/>
<circle cx="461.37" cy="240.05" r="0.8" fill="#111"/>
<circle cx="456.76" cy="234.06" r="0.8" fill="#111"/>
<circle cx="469.65" cy="238.10" r="0.8" fill="#111"/>
<circle cx="470.07" cy="230.58" r="0.8" fill="#111"/>
<circle cx="457.75" cy="246.15" r="0.8" fill="#111"/>
<circle cx="454.82" cy="226.45" r="0.8" fill="#111"/>
<circle cx="458.29" cy="240.17" r="0.8" fill="#111"/>
<circle cx="459.83" cy="231.67" r="0.8" fill="#111"/>
<circle cx="468.64" cy="232.19" r="0.8" fill="#111"/>
<circle cx="468.67" cy="238.67" r="0.8" fill="#111"/>
<circle cx="467.60" cy="239.55" r="0.8" fill="#111"/>
<circle cx="454.95" cy="226.83" r="0.8" fill="#111"/>
<circle cx="466.78" cy="218.05" r="0.8" fill="#111"/>
<circle cx="465.55" cy="226.89" r="0.8" fill="#111"/>
<circle cx="464.55" cy="234.34" r="0.8" fill="#111"/>
<circle cx="469.97" cy="242.11" r="0.8" fill="#111"/>
<circle cx="469.70" cy="192.04" r="0.8" fill="#111"/>
<circle cx="481.54" cy="241.32" r="0.8" fill="#111"/>
<circle cx="483.64" cy="239.34" r="0.8" fill="#111"/>
<circle cx="476.85" cy="231.80" r="0.8" fill="#111"/>
<circle cx="477.95" cy="227.71" r="0.8" fill="#111"/>
<circle cx="475.64" cy="232.98" r="0.8" fill="#111"/>
<circle cx="484.84" cy="237.27" r="0.8" fill="#111"/>
<circle cx="482.60" cy="233.91" r="0.8" fill="#111"/>
<circle cx="476.88" cy="231.76" r="0.8" fill="#111"/>
<circle cx="487.04" cy="240.22" r="0.8" fill="#111"/>
<circle cx="478.58" cy="236.97" r="0.8" fill="#111"/>
<circle cx="480.61" cy="237.78" r="0.8" fill="#111"/>
<circle cx="477.03" cy="239.80" r="0.8" fill="#111"/>
<circle cx="478.65" cy="235.11" r="0.8" fill="#111"/>
<circle cx="486.60" cy="238.85" r="0.8" fill="#111"/>
<circle cx="479.53" cy="238.01" r="0.8" fill="#111"/>
<circle cx="477.20" cy="239.38" r="0.8" fill="#111"/>
<circle cx="481.72" cy="232.97" r="0.8" fill="#111"/>
<circle cx="479.30" cy="242.47" r="0.8" fill="#111"/>
<circle cx="487.49" cy="232.37" r="0.8" fill="#111"/>
<circle cx="476.45" cy="238.53" r="0.8" fill="#111"/>
<circle cx="488.55" cy="241.75" r="0.8" fill="#111"/>
<circle cx="475.65" cy="228.07" r="0.8" fill="#111"/>
<circle cx="487.38" cy="238.22" r="0.8" fill="#111"/>
<circle cx="484.21" cy="227.87" r="0.8" fill="#111"/>
<circle cx="477.81" cy="229.91" r="0.8" fill="#111"/>
<circle cx="481.53" cy="229.24" r="0.8" fill="#111"/>
<circle cx="478.86" cy="239.46" r="0.8" fill="#111"/>
<circle cx="478.46" cy="235.49" r="0.8" fill="#111"/>
<circle cx="477.67" cy="240.40" r="0.8" fill="#111"/>
<circle cx="479.95" cy="228.03" r="0.8" fill="#111"/>
<circle cx="488.72" cy="230.48" r="0.8" fill="#111"/>
<circle cx="488.82" cy="233.51" r="0.8" fill="#111"/>
<circle cx="487.80" cy="235.43" r="0.8" fill="#111"/>
<circle cx="476.22" cy="236.78" r="0.8" fill="#111"/>
<circle cx="478.90" cy="230.77" r="0.8" fill="#111"/>
<circle cx="505.49" cy="232.05" r="0.8" fill="#111"/>
<circle cx="501.82" cy="242.12" r="0.8" fill="#111"/>
<circle cx="497.73" cy="233.75" r="0.8" fill="#111"/>
<circle cx="500.72" cy="238.48" r="0.8" fill="#111"/>
<circle cx="506.44" cy="231.25" r="0.8" fill="#111"/>
<circle cx="498.12" cy="243.07" r="0.8" fill="#111"/>
<circle cx="502.36" cy="232.94" r="0.8" fill="#111"/>
<circle cx="497.16" cy="237.93" r="0.8" fill="#111"/>
<circle cx="497.66" cy="240.67" r="0.8" fill="#111"/>
<circle cx="504.75" cy="243.41" r="0.8" fill="#111"/>
<path d="M462.20,183.50 L462.20,182.00 L501.50,182.00 L501.50,183.50" fill="none" stroke="#222" stroke-width="1.0"/>
<text x="481.85" y="180.80" font-size="6.4" text-anchor="middle" font-weight="normal" fill="#333" stroke="#333" stroke-width="0.2" >ns</text>
<path d="M481.85,175.70 L481.85,174.20 L501.50,174.20 L501.50,175.70" fill="none" stroke="#222" stroke-width="1.0"/>
<text x="491.68" y="173.00" font-size="6.4" text-anchor="middle" font-weight="normal" fill="#333" stroke="#333" stroke-width="0.2" >ns</text>
<rect x="342.2" y="291.0" width="5.4" height="5.4" fill="#3aae4a" stroke="#2a2a2a" stroke-width="0.6"/>
<circle cx="344.9" cy="293.7" r="0.8" fill="#111"/>
<text x="350.50" y="296.30" font-size="7.0" text-anchor="start" font-weight="normal" fill="#333" stroke="#333" stroke-width="0.2" >iMCD</text>
<rect x="375.1" y="291.0" width="5.4" height="5.4" fill="#f7941d" stroke="#2a2a2a" stroke-width="0.6"/>
<circle cx="377.8" cy="293.7" r="0.8" fill="#111"/>
<text x="383.40" y="296.30" font-size="7.0" text-anchor="start" font-weight="normal" fill="#333" stroke="#333" stroke-width="0.2" >UCD</text>
<rect x="404.2" y="291.0" width="5.4" height="5.4" fill="#8e86cf" stroke="#2a2a2a" stroke-width="0.6"/>
<circle cx="406.9" cy="293.7" r="0.8" fill="#111"/>
<text x="412.50" y="296.30" font-size="7.0" text-anchor="start" font-weight="normal" fill="#333" stroke="#333" stroke-width="0.2" >OligoCD</text>
<text transform="translate(7.7 14.7) scale(1.08 1)" font-size="10" font-weight="bold" fill="#000" stroke="#000" stroke-width="0.25">A</text>
<text transform="translate(249.9 14.9) scale(1.08 1)" font-size="10" font-weight="bold" fill="#000" stroke="#000" stroke-width="0.25">B</text>
<text transform="translate(7.7 266.6) scale(1.08 1)" font-size="10" font-weight="bold" fill="#000" stroke="#000" stroke-width="0.25">C</text>
<rect x="0.5" y="0.5" width="519" height="466" fill="none" stroke="#1a1a1a" stroke-width="1"/>
</svg>
</body></html>
